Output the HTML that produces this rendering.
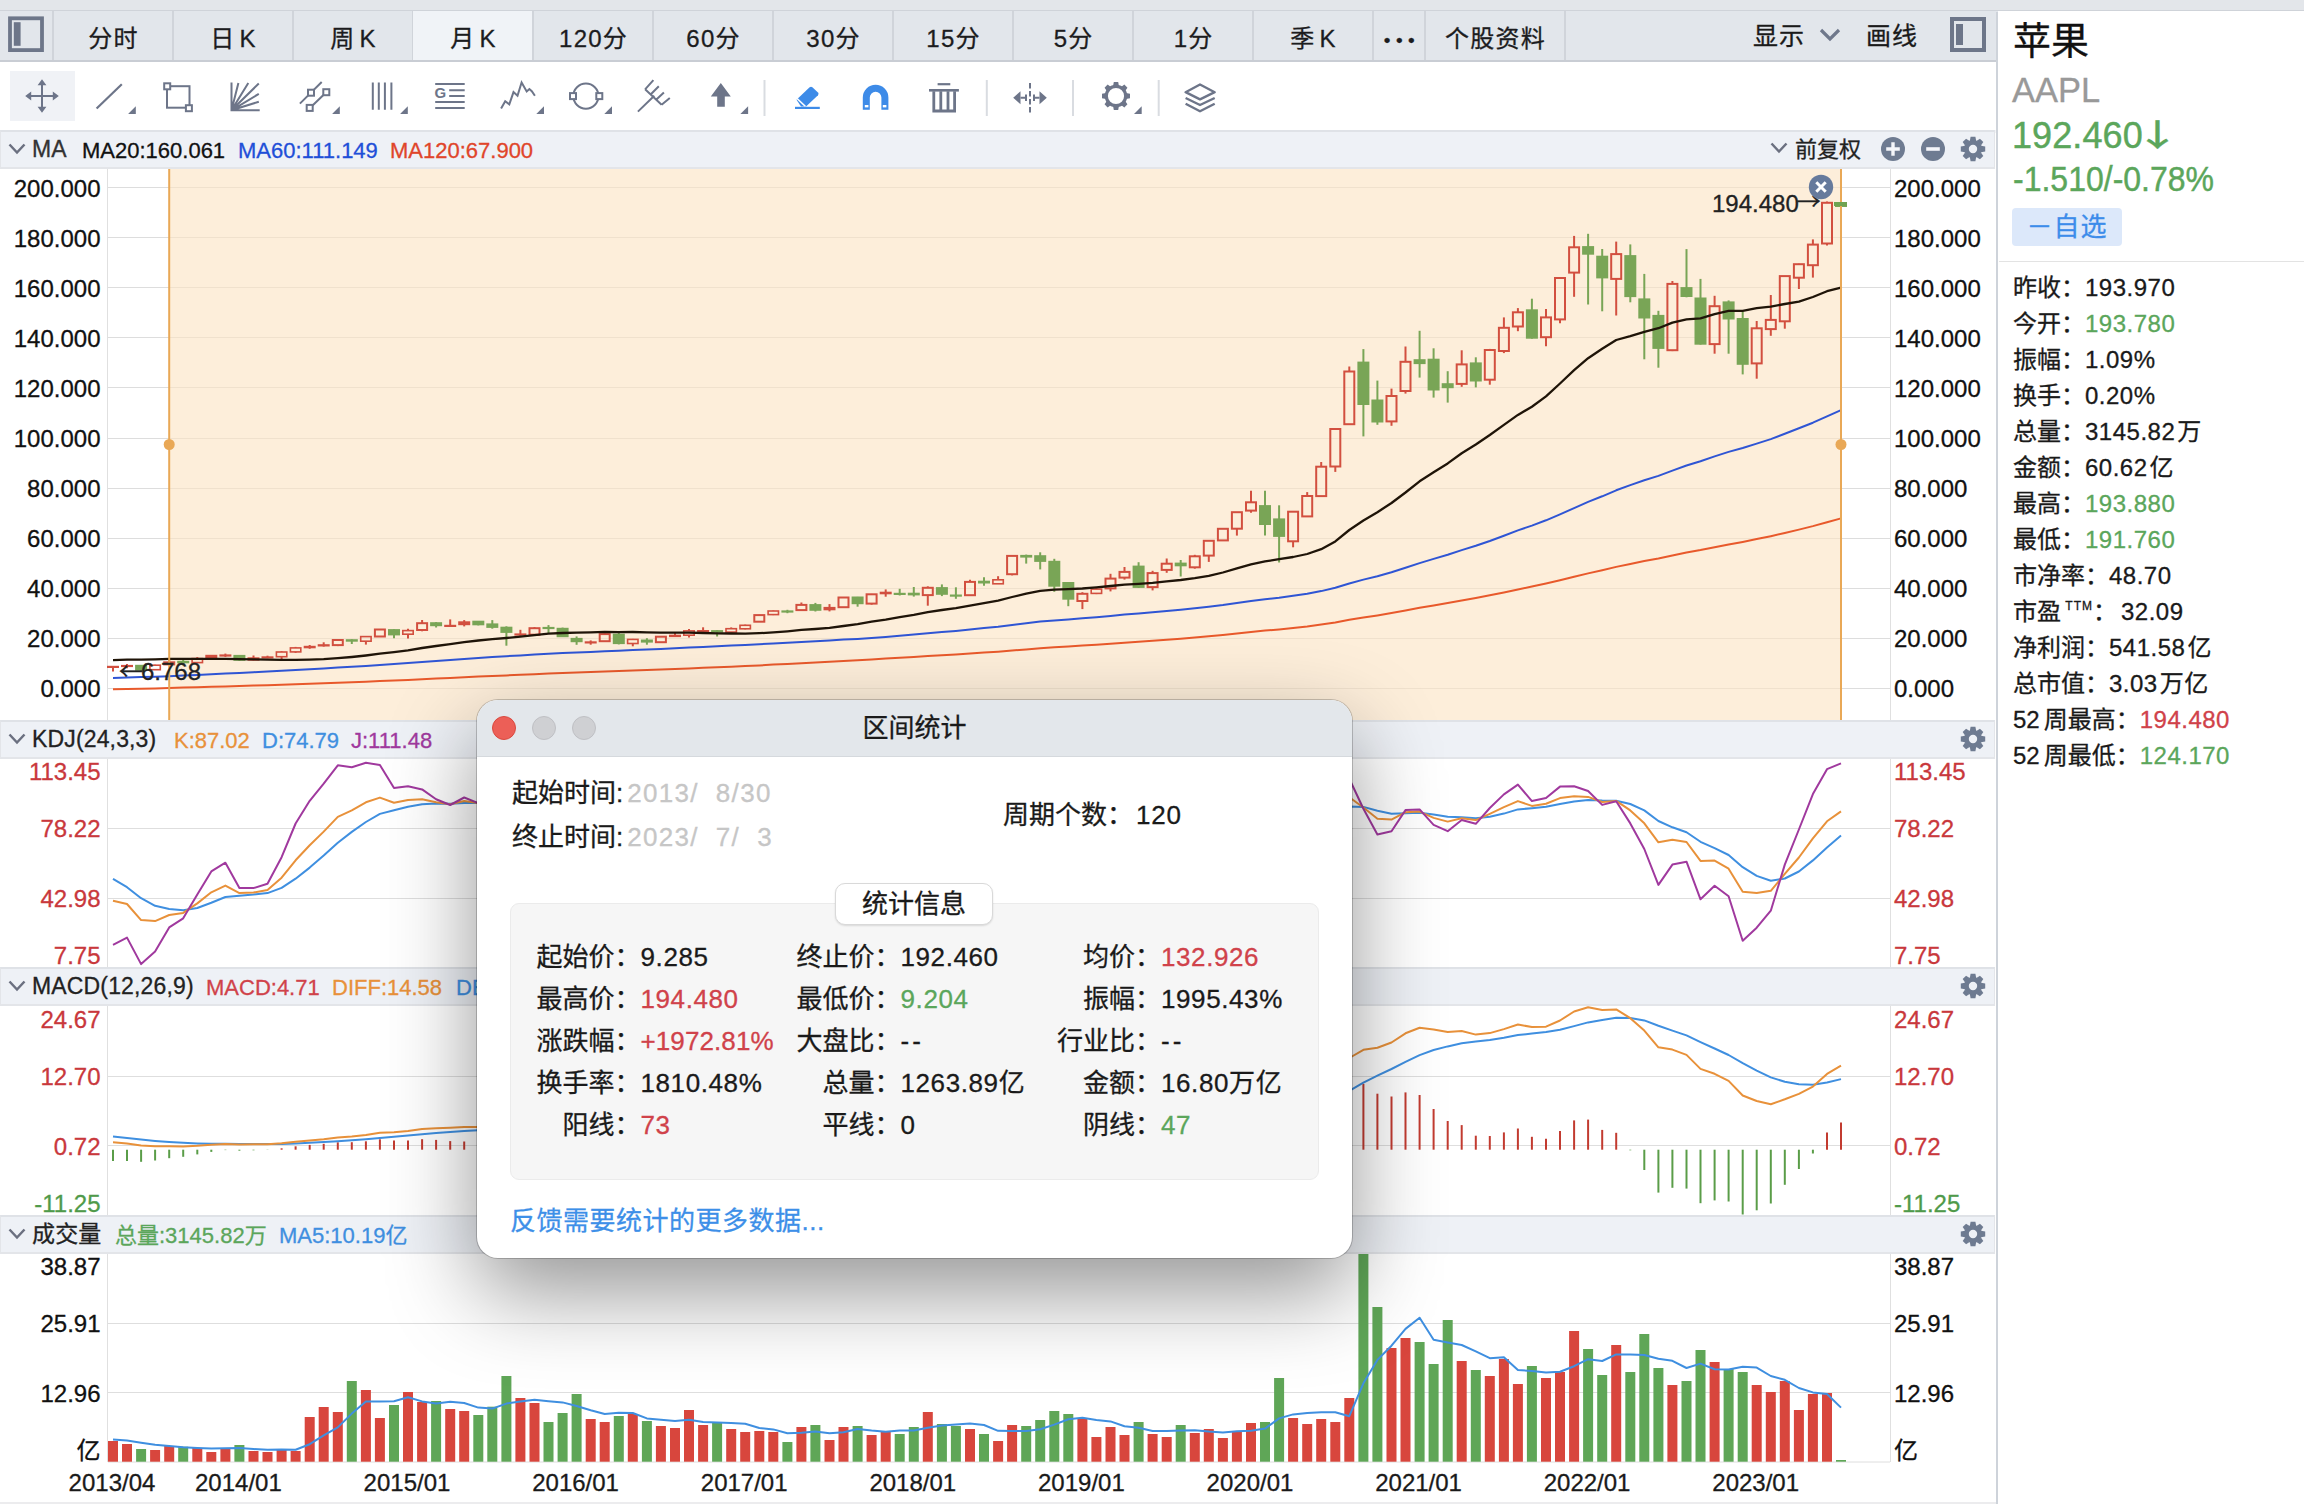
<!DOCTYPE html>
<html lang="zh-CN">
<head>
<meta charset="utf-8">
<title>苹果 AAPL 月K 区间统计</title>
<style>
*{box-sizing:border-box;margin:0;padding:0}
html,body{width:2304px;height:1504px;overflow:hidden;background:#fff}
body{position:relative;font-family:"Liberation Sans","Noto Sans CJK SC",sans-serif;color:#1a1a1a;font-weight:400;-webkit-text-stroke:.3px;-webkit-font-smoothing:antialiased}
.abs{position:absolute}
.t{position:absolute;white-space:nowrap;line-height:1}
#topstrip{left:0;top:0;width:2304px;height:11px;background:#e3e6ea;border-bottom:1px solid #cfd3d9}
#tabbar{left:0;top:11px;width:1998px;height:51px;background:#e2e6eb;border-bottom:2px solid #c9cdd4}
.tab{position:absolute;top:0;height:49px;border-right:2px solid #d0d4da;font-size:24px;line-height:55px;text-align:center;color:#1c1c1e;letter-spacing:1.200px;padding-left:2px}
.tab.sel{background:#f0f3f7}
#toolbar{left:0;top:62px;width:1998px;height:68px;background:#fff}
.hdr{position:absolute;left:0;width:1995px;border-left:1px solid #e3e5e9;border-right:1px solid #e3e5e9;height:36px;background:#eef1f6;border-top:2px solid #dfe2e7;border-bottom:2px solid #e3e5e9;font-size:22px}
.hdr .t{top:5px;line-height:24px}
.ax{position:absolute;font-size:24px;line-height:24px;white-space:nowrap}
.axl{text-align:right;width:100px;left:.5px;margin-top:1px}
.axr{left:1894px;margin-top:1px}
#side{left:1996px;top:12px;width:308px;height:1492px;background:#fff;border-left:2px solid #ced3da}
.row{position:absolute;left:2013px;font-size:24px;line-height:30px;white-space:nowrap}
.g{color:#5ba65b}.r{color:#d0424a}
#dlg{left:477px;top:700px;width:875px;height:558px;border-radius:21px;background:#fff;box-shadow:0 0 0 1px rgba(0,0,0,.2),0 34px 88px rgba(0,0,0,.42);overflow:hidden}
#dlg .title{position:absolute;left:0;top:0;width:100%;height:57px;background:#e3e7eb;border-bottom:1px solid #d5d9dd;text-align:center;font-size:26px;line-height:57px}
.dot{position:absolute;top:16px;width:24px;height:24px;border-radius:50%}
.d26{font-size:26px;line-height:32px}
</style>
</head>
<body>
<div id="topstrip" class="abs"></div>
<div id="tabbar" class="abs">
<div class="tab" style="left:0px;width:54px"></div>
<div class="tab" style="left:53px;width:121px">分时</div>
<div class="tab" style="left:173px;width:121px">日<span style="margin-left:4px">K</span></div>
<div class="tab" style="left:293px;width:121px">周<span style="margin-left:4px">K</span></div>
<div class="tab sel" style="left:413px;width:121px">月<span style="margin-left:4px">K</span></div>
<div class="tab" style="left:533px;width:121px">120分</div>
<div class="tab" style="left:653px;width:121px">60分</div>
<div class="tab" style="left:773px;width:121px">30分</div>
<div class="tab" style="left:893px;width:121px">15分</div>
<div class="tab" style="left:1013px;width:121px">5分</div>
<div class="tab" style="left:1133px;width:121px">1分</div>
<div class="tab" style="left:1253px;width:121px">季<span style="margin-left:4px">K</span></div>
<div class="tab" style="left:1373px;width:53px"><span style="font-size:19px;letter-spacing:5.500px;margin-left:5px">•••</span></div>
<div class="tab" style="left:1425px;width:141px">个股资料</div>
<svg class="abs" style="left:8px;top:3px" width="38" height="40" viewBox="0 0 38 40"><rect x="2" y="4.300" width="32" height="31.800" fill="none" stroke="#6d7689" stroke-width="3.800"/><rect x="5.800" y="8.200" width="6.800" height="23.600" fill="#6d7689"/></svg>
<div class="t" style="left:1753px;top:13px;font-size:25px;letter-spacing:1px">显示</div>
<svg class="abs" style="left:1818px;top:16px" width="24" height="16" viewBox="0 0 24 16"><polyline points="3,3 12,12 21,3" fill="none" stroke="#6f788b" stroke-width="3.200"/></svg>
<div class="t" style="left:1866px;top:13px;font-size:25px;letter-spacing:1px">画线</div>
<svg class="abs" style="left:1949px;top:4.500px" width="40" height="40" viewBox="0 0 40 40"><rect x="3" y="3" width="32" height="31" fill="none" stroke="#6d7689" stroke-width="4"/><rect x="7" y="8" width="7" height="21" fill="#6d7689"/></svg>

</div>
<div id="toolbar" class="abs">
<div class="abs" style="left:10px;top:9px;width:65px;height:50px;background:#f0f2f6"></div>
<svg class="abs" style="left:0;top:0" width="1998" height="68" viewBox="0 62 1998 68" fill="none" stroke="#6d7589" stroke-width="2" stroke-linecap="butt">
<!-- move -->
<path d="M42 82V110M28 96H56"/>
<path d="M42 79.200L46.400 85.200H37.600ZM42 112.800L46.400 106.800H37.600ZM25.200 96L31.200 91.600V100.400ZM58.800 96L52.800 91.600V100.400Z" fill="#6d7589" stroke="none"/>
<!-- line -->
<path d="M96.600 108.500L121.800 84.200" stroke-width="2.200"/>
<path d="M135.800 106.300V114H128.100Z" fill="#6d7589" stroke="none"/>
<!-- square w/ handles -->
<rect x="167" y="86.200" width="22.500" height="21.500"/>
<rect x="164.200" y="83.300" width="6" height="6" fill="#fff"/>
<rect x="185.900" y="105.200" width="6" height="6" fill="#fff"/>
<!-- fan -->
<path d="M231.500 82.400V110.300H259.700M231.500 110.300L238.400 83M231.500 110.300L248.300 83M231.500 110.300L258.800 83.500M231.500 110.300L258.800 93.900M231.500 110.300L258.800 101.700" stroke-width="2"/>
<rect x="231.500" y="104.800" width="5.500" height="5.500" fill="#6d7589" stroke="none"/>
<!-- channel -->
<path d="M299.900 103.600L321.700 82M312 106L325 93.500"/>
<rect x="308" y="89.700" width="6" height="6" fill="#fff"/>
<rect x="323.300" y="89.200" width="6" height="6" fill="#fff"/>
<rect x="306.700" y="104.900" width="6" height="6" fill="#fff"/>
<path d="M339.800 106.300V114H332.100Z" fill="#6d7589" stroke="none"/>
<!-- 4 lines -->
<path d="M372.800 82.400V109.800M378.800 82.400V109.800M384.900 82.400V109.800M391.400 82.400V109.800"/>
<path d="M407.800 106.300V114H400.100Z" fill="#6d7589" stroke="none"/>
<!-- G lines -->
<path d="M435.200 83.900H464.700M449.200 90.300H464.700M449.200 96.100H464.700M435.200 102.100H464.700M435.200 107.900H464.700"/>
<text x="434.600" y="98.300" font-family="Liberation Sans,sans-serif" font-weight="bold" font-size="15" fill="#6d7589" stroke="none">G</text>
<!-- zigzag -->
<polyline points="501.100,108.500 505.200,101.200 509.300,104.300 513.500,92.100 517.500,95.700 521.600,82.400 526.700,91.500 529.400,89 531.800,91.200 534.900,95.700" stroke-linejoin="miter"/>
<path d="M544 106.300V114H536.300Z" fill="#6d7589" stroke="none"/>
<!-- circle handles -->
<circle cx="585.900" cy="96.100" r="12.600"/>
<rect x="570" y="93.100" width="6" height="6" fill="#fff"/>
<rect x="596.300" y="93.100" width="6" height="6" fill="#fff"/>
<path d="M612 106.300V114H604.300Z" fill="#6d7589" stroke="none"/>
<!-- rake -->
<path d="M637.900 111.600L654.300 95.700M645.100 89.300L661.600 104.800M645.100 89.300L653.400 80.200M650.600 94.500L658.800 86.300M656.100 99.700L663.900 92.400M661.600 104.800L669.800 97.900"/>
<!-- up arrow -->
<path d="M710.800 96.600L720.800 83L730.800 96.600H724.800V106.700H717.200V96.600Z" fill="#6d7589" stroke="none"/>
<path d="M748.100 106.300V114H740.400Z" fill="#6d7589" stroke="none"/>
<line x1="764.500" x2="764.500" y1="80" y2="116" stroke="#d9dce1"/>
<!-- eraser -->
<path d="M796.500 99.800L809.600 87.300Q811 86 812.400 87.300L818 92.600Q819.200 93.900 818 95.200L806 106.600H801Z" fill="#3d8be8" stroke="none"/>
<path d="M797 98.500L805.500 106.500" stroke="#fff" stroke-width="1.600"/>
<path d="M795 107.900H819.800" stroke="#3d8be8" stroke-width="2.200"/>
<!-- magnet -->
<path d="M866.300 109.800V97.600A9.300 9.300 0 0 1 884.900 97.600V109.800" stroke="#3d8be8" stroke-width="7"/>
<rect x="864.800" y="105" width="3.600" height="2.400" fill="#fff" stroke="none"/><rect x="882.800" y="105" width="3.600" height="2.400" fill="#fff" stroke="none"/>
<!-- trash -->
<path d="M937.600 84.200H950.300" stroke-width="2.200"/>
<path d="M929 90.300H958.900" stroke-width="2.600"/>
<path d="M933.800 91.200V111H954.600V91.200M940.800 91.200V111M948 91.200V111" stroke-width="2.800"/>
<line x1="986.800" x2="986.800" y1="80" y2="116" stroke="#d9dce1"/>
<!-- h arrows -->
<path d="M1030 83V113" stroke-dasharray="5.500,2.500"/>
<path d="M1013.200 97.700L1020.500 91.200V104.300ZM1046.800 97.700L1039.500 91.200V104.300Z" fill="#6d7589" stroke="none"/>
<path d="M1020.500 97.700H1026M1026 94.500V101M1039.500 97.700H1034M1034 94.500V101"/>
<line x1="1073" x2="1073" y1="80" y2="116" stroke="#d9dce1"/>
<!-- gear -->
<g transform="translate(1116,96)" fill="#6d7589" stroke="none"><path d="M-2.900 -10L-2.200 -14H2.200L2.900 -10Z" transform="rotate(0)"/><path d="M-2.900 -10L-2.200 -14H2.200L2.900 -10Z" transform="rotate(45)"/><path d="M-2.900 -10L-2.200 -14H2.200L2.900 -10Z" transform="rotate(90)"/><path d="M-2.900 -10L-2.200 -14H2.200L2.900 -10Z" transform="rotate(135)"/><path d="M-2.900 -10L-2.200 -14H2.200L2.900 -10Z" transform="rotate(180)"/><path d="M-2.900 -10L-2.200 -14H2.200L2.900 -10Z" transform="rotate(225)"/><path d="M-2.900 -10L-2.200 -14H2.200L2.900 -10Z" transform="rotate(270)"/><path d="M-2.900 -10L-2.200 -14H2.200L2.900 -10Z" transform="rotate(315)"/></g>
<circle cx="1116" cy="96" r="9.700" stroke-width="3.200"/>
<path d="M1141.700 106.300V114H1134Z" fill="#6d7589" stroke="none"/>
<line x1="1158.700" x2="1158.700" y1="80" y2="116" stroke="#d9dce1"/>
<!-- layers -->
<path d="M1200 84.500L1214.700 92.200L1200 99.300L1185.600 92.200ZM1185.600 98L1200 105L1214.700 98M1185.600 103.700L1200 111.200L1214.700 103.700" stroke-width="2.400" stroke-linejoin="round"/>
</svg>

</div>
<div class="abs" style="left:0;top:130px;width:1998px;height:3px;background:#f3f4f6"></div>

<!-- chart svg -->
<svg class="abs" style="left:0;top:0" width="1998" height="1504" viewBox="0 0 1998 1504">
<line x1="107.5" x2="107.5" y1="168" y2="1462" stroke="#e0e0e0"/>
<line x1="1890.5" x2="1890.5" y1="168" y2="1462" stroke="#e0e0e0"/>
<line x1="108" x2="1890" y1="688.5" y2="688.5" stroke="#dddddd" stroke-width="1"/>
<line x1="108" x2="1890" y1="638.5" y2="638.5" stroke="#dddddd" stroke-width="1"/>
<line x1="108" x2="1890" y1="588.5" y2="588.5" stroke="#dddddd" stroke-width="1"/>
<line x1="108" x2="1890" y1="538.5" y2="538.5" stroke="#dddddd" stroke-width="1"/>
<line x1="108" x2="1890" y1="488.5" y2="488.5" stroke="#dddddd" stroke-width="1"/>
<line x1="108" x2="1890" y1="438.5" y2="438.5" stroke="#dddddd" stroke-width="1"/>
<line x1="108" x2="1890" y1="387.5" y2="387.5" stroke="#dddddd" stroke-width="1"/>
<line x1="108" x2="1890" y1="337.5" y2="337.5" stroke="#dddddd" stroke-width="1"/>
<line x1="108" x2="1890" y1="287.5" y2="287.5" stroke="#dddddd" stroke-width="1"/>
<line x1="108" x2="1890" y1="237.5" y2="237.5" stroke="#dddddd" stroke-width="1"/>
<line x1="108" x2="1890" y1="187.5" y2="187.5" stroke="#dddddd" stroke-width="1"/>
<rect x="169.2" y="169" width="1671.8" height="551" fill="#fbe3c4" fill-opacity="0.62"/>
<line x1="113" x2="113" y1="666.1" y2="671.5" stroke="#d24f3f" stroke-width="2"/>
<rect x="107" y="665.8" width="12" height="2.2" fill="#d24f3f"/>
<line x1="127" x2="127" y1="664" y2="668.3" stroke="#d24f3f" stroke-width="2"/>
<rect x="121" y="664.9" width="12" height="2.2" fill="#d24f3f"/>
<line x1="141.1" x2="141.1" y1="665" y2="670.8" stroke="#79a556" stroke-width="2"/>
<rect x="135.1" y="664.8" width="12" height="5.9" fill="#79a556"/>
<line x1="155.1" x2="155.1" y1="664.7" y2="665.2" stroke="#d24f3f" stroke-width="2"/>
<line x1="155.1" x2="155.1" y1="669.6" y2="670" stroke="#d24f3f" stroke-width="2"/>
<rect x="149.9" y="665.2" width="10.4" height="4.5" fill="none" stroke="#d24f3f" stroke-width="1.6"/>
<line x1="169.2" x2="169.2" y1="659.4" y2="665.1" stroke="#d24f3f" stroke-width="2"/>
<rect x="163.2" y="661.3" width="12" height="4.1" fill="#d24f3f"/>
<line x1="183.2" x2="183.2" y1="659.9" y2="665.4" stroke="#79a556" stroke-width="2"/>
<rect x="177.2" y="660.8" width="12" height="2.5" fill="#79a556"/>
<line x1="197.3" x2="197.3" y1="657.1" y2="658.6" stroke="#d24f3f" stroke-width="2"/>
<line x1="197.3" x2="197.3" y1="662.6" y2="662.6" stroke="#d24f3f" stroke-width="2"/>
<rect x="192.1" y="658.6" width="10.4" height="4" fill="none" stroke="#d24f3f" stroke-width="1.6"/>
<line x1="211.3" x2="211.3" y1="655.1" y2="659.5" stroke="#d24f3f" stroke-width="2"/>
<rect x="205.3" y="654.8" width="12" height="4.1" fill="#d24f3f"/>
<line x1="225.4" x2="225.4" y1="653.6" y2="656.9" stroke="#d24f3f" stroke-width="2"/>
<rect x="219.4" y="654.4" width="12" height="2.2" fill="#d24f3f"/>
<line x1="239.4" x2="239.4" y1="655" y2="660.9" stroke="#79a556" stroke-width="2"/>
<rect x="233.4" y="654.9" width="12" height="5.9" fill="#79a556"/>
<line x1="253.5" x2="253.5" y1="655.5" y2="660.4" stroke="#d24f3f" stroke-width="2"/>
<rect x="247.5" y="657.3" width="12" height="3.4" fill="#d24f3f"/>
<line x1="267.5" x2="267.5" y1="655.7" y2="658.2" stroke="#d24f3f" stroke-width="2"/>
<rect x="261.5" y="656.3" width="12" height="2.2" fill="#d24f3f"/>
<line x1="281.6" x2="281.6" y1="651.2" y2="652" stroke="#d24f3f" stroke-width="2"/>
<line x1="281.6" x2="281.6" y1="656.7" y2="659.1" stroke="#d24f3f" stroke-width="2"/>
<rect x="276.4" y="652" width="10.4" height="4.7" fill="none" stroke="#d24f3f" stroke-width="1.6"/>
<line x1="295.6" x2="295.6" y1="646.9" y2="647.9" stroke="#d24f3f" stroke-width="2"/>
<line x1="295.6" x2="295.6" y1="651.9" y2="652.9" stroke="#d24f3f" stroke-width="2"/>
<rect x="290.4" y="647.9" width="10.4" height="4" fill="none" stroke="#d24f3f" stroke-width="1.6"/>
<line x1="309.7" x2="309.7" y1="645" y2="648.8" stroke="#d24f3f" stroke-width="2"/>
<rect x="303.7" y="645.8" width="12" height="2.5" fill="#d24f3f"/>
<line x1="323.7" x2="323.7" y1="642.3" y2="646.6" stroke="#d24f3f" stroke-width="2"/>
<rect x="317.7" y="644.2" width="12" height="2.3" fill="#d24f3f"/>
<line x1="337.8" x2="337.8" y1="639.8" y2="640" stroke="#d24f3f" stroke-width="2"/>
<line x1="337.8" x2="337.8" y1="645.1" y2="646.1" stroke="#d24f3f" stroke-width="2"/>
<rect x="332.8" y="640" width="10" height="5.1" fill="none" stroke="#d24f3f" stroke-width="2"/>
<line x1="351.8" x2="351.8" y1="639.3" y2="644" stroke="#79a556" stroke-width="2"/>
<rect x="345.8" y="639.2" width="12" height="2.5" fill="#79a556"/>
<line x1="365.9" x2="365.9" y1="636.6" y2="636.6" stroke="#d24f3f" stroke-width="2"/>
<line x1="365.9" x2="365.9" y1="641.2" y2="644.6" stroke="#d24f3f" stroke-width="2"/>
<rect x="360.7" y="636.6" width="10.4" height="4.6" fill="none" stroke="#d24f3f" stroke-width="1.6"/>
<line x1="379.9" x2="379.9" y1="629" y2="629.5" stroke="#d24f3f" stroke-width="2"/>
<line x1="379.9" x2="379.9" y1="636.5" y2="636.8" stroke="#d24f3f" stroke-width="2"/>
<rect x="374.9" y="629.5" width="10" height="7" fill="none" stroke="#d24f3f" stroke-width="2"/>
<line x1="394" x2="394" y1="629.3" y2="638.2" stroke="#79a556" stroke-width="2"/>
<rect x="388" y="629.1" width="12" height="6.3" fill="#79a556"/>
<line x1="408" x2="408" y1="628.8" y2="630.6" stroke="#d24f3f" stroke-width="2"/>
<line x1="408" x2="408" y1="634.2" y2="638.4" stroke="#d24f3f" stroke-width="2"/>
<rect x="402.8" y="630.6" width="10.4" height="3.6" fill="none" stroke="#d24f3f" stroke-width="1.6"/>
<line x1="422.1" x2="422.1" y1="620" y2="623.2" stroke="#d24f3f" stroke-width="2"/>
<line x1="422.1" x2="422.1" y1="630" y2="631.3" stroke="#d24f3f" stroke-width="2"/>
<rect x="417.1" y="623.2" width="10" height="6.8" fill="none" stroke="#d24f3f" stroke-width="2"/>
<line x1="436.1" x2="436.1" y1="622.1" y2="627.5" stroke="#79a556" stroke-width="2"/>
<rect x="430.1" y="622.2" width="12" height="4" fill="#79a556"/>
<line x1="450.2" x2="450.2" y1="619.4" y2="626.6" stroke="#d24f3f" stroke-width="2"/>
<rect x="444.2" y="624.8" width="12" height="2.2" fill="#d24f3f"/>
<line x1="464.2" x2="464.2" y1="620.1" y2="626.4" stroke="#d24f3f" stroke-width="2"/>
<rect x="458.2" y="621.3" width="12" height="3.9" fill="#d24f3f"/>
<line x1="478.3" x2="478.3" y1="621.1" y2="625.4" stroke="#79a556" stroke-width="2"/>
<rect x="472.3" y="620.7" width="12" height="4.6" fill="#79a556"/>
<line x1="492.3" x2="492.3" y1="620.1" y2="628.7" stroke="#79a556" stroke-width="2"/>
<rect x="486.3" y="623.4" width="12" height="4.5" fill="#79a556"/>
<line x1="506.4" x2="506.4" y1="626.3" y2="645.7" stroke="#79a556" stroke-width="2"/>
<rect x="500.4" y="626.7" width="12" height="6.2" fill="#79a556"/>
<line x1="520.4" x2="520.4" y1="629.8" y2="635.8" stroke="#d24f3f" stroke-width="2"/>
<rect x="514.4" y="633.4" width="12" height="2.2" fill="#d24f3f"/>
<line x1="534.5" x2="534.5" y1="627.1" y2="628.2" stroke="#d24f3f" stroke-width="2"/>
<line x1="534.5" x2="534.5" y1="634.7" y2="635.8" stroke="#d24f3f" stroke-width="2"/>
<rect x="529.5" y="628.2" width="10" height="6.5" fill="none" stroke="#d24f3f" stroke-width="2"/>
<line x1="548.5" x2="548.5" y1="625.1" y2="633.5" stroke="#79a556" stroke-width="2"/>
<rect x="542.5" y="626.9" width="12" height="2.2" fill="#79a556"/>
<line x1="562.6" x2="562.6" y1="627.6" y2="637" stroke="#79a556" stroke-width="2"/>
<rect x="556.6" y="627.8" width="12" height="9.4" fill="#79a556"/>
<line x1="576.6" x2="576.6" y1="636.4" y2="644.8" stroke="#79a556" stroke-width="2"/>
<rect x="570.6" y="637.9" width="12" height="4.3" fill="#79a556"/>
<line x1="590.7" x2="590.7" y1="640.4" y2="644.7" stroke="#d24f3f" stroke-width="2"/>
<rect x="584.7" y="641.3" width="12" height="2.2" fill="#d24f3f"/>
<line x1="604.7" x2="604.7" y1="633.2" y2="634.1" stroke="#d24f3f" stroke-width="2"/>
<line x1="604.7" x2="604.7" y1="641.2" y2="641.4" stroke="#d24f3f" stroke-width="2"/>
<rect x="599.7" y="634.1" width="10" height="7.1" fill="none" stroke="#d24f3f" stroke-width="2"/>
<line x1="618.8" x2="618.8" y1="632" y2="644.4" stroke="#79a556" stroke-width="2"/>
<rect x="612.8" y="633.7" width="12" height="10.4" fill="#79a556"/>
<line x1="632.8" x2="632.8" y1="638.9" y2="639.4" stroke="#d24f3f" stroke-width="2"/>
<line x1="632.8" x2="632.8" y1="643.5" y2="646.3" stroke="#d24f3f" stroke-width="2"/>
<rect x="627.6" y="639.4" width="10.4" height="4.1" fill="none" stroke="#d24f3f" stroke-width="1.6"/>
<line x1="646.9" x2="646.9" y1="638.2" y2="644.7" stroke="#79a556" stroke-width="2"/>
<rect x="640.9" y="639.5" width="12" height="3.1" fill="#79a556"/>
<line x1="660.9" x2="660.9" y1="636.5" y2="636.7" stroke="#d24f3f" stroke-width="2"/>
<line x1="660.9" x2="660.9" y1="642.2" y2="642.9" stroke="#d24f3f" stroke-width="2"/>
<rect x="655.9" y="636.7" width="10" height="5.5" fill="none" stroke="#d24f3f" stroke-width="2"/>
<line x1="675" x2="675" y1="632.6" y2="637.1" stroke="#d24f3f" stroke-width="2"/>
<rect x="669" y="634.7" width="12" height="2.4" fill="#d24f3f"/>
<line x1="689" x2="689" y1="628.9" y2="630.9" stroke="#d24f3f" stroke-width="2"/>
<line x1="689" x2="689" y1="635.2" y2="637.4" stroke="#d24f3f" stroke-width="2"/>
<rect x="683.8" y="630.9" width="10.4" height="4.3" fill="none" stroke="#d24f3f" stroke-width="1.6"/>
<line x1="703.1" x2="703.1" y1="627.3" y2="631.3" stroke="#d24f3f" stroke-width="2"/>
<rect x="697.1" y="630" width="12" height="2.2" fill="#d24f3f"/>
<line x1="717.1" x2="717.1" y1="630" y2="636.5" stroke="#79a556" stroke-width="2"/>
<rect x="711.1" y="630.1" width="12" height="2.5" fill="#79a556"/>
<line x1="731.2" x2="731.2" y1="627.4" y2="628.7" stroke="#d24f3f" stroke-width="2"/>
<line x1="731.2" x2="731.2" y1="632.2" y2="633.5" stroke="#d24f3f" stroke-width="2"/>
<rect x="726" y="628.7" width="10.4" height="3.4" fill="none" stroke="#d24f3f" stroke-width="1.6"/>
<line x1="745.2" x2="745.2" y1="624.6" y2="625.3" stroke="#d24f3f" stroke-width="2"/>
<line x1="745.2" x2="745.2" y1="628.8" y2="629.4" stroke="#d24f3f" stroke-width="2"/>
<rect x="740" y="625.3" width="10.4" height="3.5" fill="none" stroke="#d24f3f" stroke-width="1.6"/>
<line x1="759.3" x2="759.3" y1="614.8" y2="615.1" stroke="#d24f3f" stroke-width="2"/>
<line x1="759.3" x2="759.3" y1="621.7" y2="621.8" stroke="#d24f3f" stroke-width="2"/>
<rect x="754.3" y="615.1" width="10" height="6.6" fill="none" stroke="#d24f3f" stroke-width="2"/>
<line x1="773.3" x2="773.3" y1="610.5" y2="611" stroke="#d24f3f" stroke-width="2"/>
<line x1="773.3" x2="773.3" y1="614.6" y2="615.1" stroke="#d24f3f" stroke-width="2"/>
<rect x="768.1" y="611" width="10.4" height="3.6" fill="none" stroke="#d24f3f" stroke-width="1.6"/>
<line x1="787.4" x2="787.4" y1="609.8" y2="613.2" stroke="#79a556" stroke-width="2"/>
<rect x="781.4" y="610.4" width="12" height="2.2" fill="#79a556"/>
<line x1="801.4" x2="801.4" y1="602.5" y2="604.9" stroke="#d24f3f" stroke-width="2"/>
<line x1="801.4" x2="801.4" y1="610.1" y2="610.6" stroke="#d24f3f" stroke-width="2"/>
<rect x="796.4" y="604.9" width="10" height="5.2" fill="none" stroke="#d24f3f" stroke-width="2"/>
<line x1="815.4" x2="815.4" y1="602.9" y2="611.5" stroke="#79a556" stroke-width="2"/>
<rect x="809.4" y="604.1" width="12" height="6.7" fill="#79a556"/>
<line x1="829.5" x2="829.5" y1="604.1" y2="611.4" stroke="#d24f3f" stroke-width="2"/>
<rect x="823.5" y="606.9" width="12" height="3.4" fill="#d24f3f"/>
<line x1="843.5" x2="843.5" y1="597.1" y2="597.5" stroke="#d24f3f" stroke-width="2"/>
<line x1="843.5" x2="843.5" y1="607.2" y2="607.6" stroke="#d24f3f" stroke-width="2"/>
<rect x="838.5" y="597.5" width="10" height="9.7" fill="none" stroke="#d24f3f" stroke-width="2"/>
<line x1="857.6" x2="857.6" y1="596.9" y2="606.7" stroke="#79a556" stroke-width="2"/>
<rect x="851.6" y="596.5" width="12" height="7.7" fill="#79a556"/>
<line x1="871.6" x2="871.6" y1="593.9" y2="594.3" stroke="#d24f3f" stroke-width="2"/>
<line x1="871.6" x2="871.6" y1="603.6" y2="604.7" stroke="#d24f3f" stroke-width="2"/>
<rect x="866.6" y="594.3" width="10" height="9.3" fill="none" stroke="#d24f3f" stroke-width="2"/>
<line x1="885.7" x2="885.7" y1="589.4" y2="596.7" stroke="#d24f3f" stroke-width="2"/>
<rect x="879.7" y="591.7" width="12" height="2.6" fill="#d24f3f"/>
<line x1="899.7" x2="899.7" y1="588.8" y2="595.5" stroke="#79a556" stroke-width="2"/>
<rect x="893.7" y="592.8" width="12" height="2.2" fill="#79a556"/>
<line x1="913.8" x2="913.8" y1="587" y2="596.6" stroke="#79a556" stroke-width="2"/>
<rect x="907.8" y="592.7" width="12" height="2.7" fill="#79a556"/>
<line x1="927.8" x2="927.8" y1="586.3" y2="587.8" stroke="#d24f3f" stroke-width="2"/>
<line x1="927.8" x2="927.8" y1="595.1" y2="605.7" stroke="#d24f3f" stroke-width="2"/>
<rect x="922.8" y="587.8" width="10" height="7.3" fill="none" stroke="#d24f3f" stroke-width="2"/>
<line x1="941.9" x2="941.9" y1="584.4" y2="596.1" stroke="#79a556" stroke-width="2"/>
<rect x="935.9" y="587.1" width="12" height="7.7" fill="#79a556"/>
<line x1="955.9" x2="955.9" y1="587.3" y2="598.8" stroke="#79a556" stroke-width="2"/>
<rect x="949.9" y="594.5" width="12" height="2.2" fill="#79a556"/>
<line x1="970" x2="970" y1="579.7" y2="581.9" stroke="#d24f3f" stroke-width="2"/>
<line x1="970" x2="970" y1="595.2" y2="595.9" stroke="#d24f3f" stroke-width="2"/>
<rect x="965" y="581.9" width="10" height="13.3" fill="none" stroke="#d24f3f" stroke-width="2"/>
<line x1="984" x2="984" y1="577.3" y2="585.7" stroke="#79a556" stroke-width="2"/>
<rect x="978" y="580.7" width="12" height="2.8" fill="#79a556"/>
<line x1="998.1" x2="998.1" y1="576.2" y2="579.8" stroke="#d24f3f" stroke-width="2"/>
<line x1="998.1" x2="998.1" y1="583.8" y2="584" stroke="#d24f3f" stroke-width="2"/>
<rect x="992.9" y="579.8" width="10.4" height="4" fill="none" stroke="#d24f3f" stroke-width="1.6"/>
<line x1="1012.1" x2="1012.1" y1="555.1" y2="555.9" stroke="#d24f3f" stroke-width="2"/>
<line x1="1012.1" x2="1012.1" y1="574.2" y2="575.4" stroke="#d24f3f" stroke-width="2"/>
<rect x="1007.1" y="555.9" width="10" height="18.3" fill="none" stroke="#d24f3f" stroke-width="2"/>
<line x1="1026.2" x2="1026.2" y1="554.6" y2="563.6" stroke="#79a556" stroke-width="2"/>
<rect x="1020.2" y="554.9" width="12" height="2.7" fill="#79a556"/>
<line x1="1040.2" x2="1040.2" y1="552.3" y2="569.4" stroke="#79a556" stroke-width="2"/>
<rect x="1034.2" y="555.2" width="12" height="6.7" fill="#79a556"/>
<line x1="1054.3" x2="1054.3" y1="558.8" y2="591.8" stroke="#79a556" stroke-width="2"/>
<rect x="1048.3" y="560.8" width="12" height="25.9" fill="#79a556"/>
<line x1="1068.3" x2="1068.3" y1="582.2" y2="606.2" stroke="#79a556" stroke-width="2"/>
<rect x="1062.3" y="582" width="12" height="17.7" fill="#79a556"/>
<line x1="1082.4" x2="1082.4" y1="592.2" y2="593.8" stroke="#d24f3f" stroke-width="2"/>
<line x1="1082.4" x2="1082.4" y1="601" y2="609.1" stroke="#d24f3f" stroke-width="2"/>
<rect x="1077.4" y="593.8" width="10" height="7.2" fill="none" stroke="#d24f3f" stroke-width="2"/>
<line x1="1096.4" x2="1096.4" y1="587.4" y2="589.1" stroke="#d24f3f" stroke-width="2"/>
<line x1="1096.4" x2="1096.4" y1="593.4" y2="594.1" stroke="#d24f3f" stroke-width="2"/>
<rect x="1091.2" y="589.1" width="10.4" height="4.3" fill="none" stroke="#d24f3f" stroke-width="1.6"/>
<line x1="1110.5" x2="1110.5" y1="573.8" y2="578.6" stroke="#d24f3f" stroke-width="2"/>
<line x1="1110.5" x2="1110.5" y1="588.4" y2="591.4" stroke="#d24f3f" stroke-width="2"/>
<rect x="1105.5" y="578.6" width="10" height="9.8" fill="none" stroke="#d24f3f" stroke-width="2"/>
<line x1="1124.5" x2="1124.5" y1="567" y2="571.9" stroke="#d24f3f" stroke-width="2"/>
<line x1="1124.5" x2="1124.5" y1="577.5" y2="579.6" stroke="#d24f3f" stroke-width="2"/>
<rect x="1119.5" y="571.9" width="10" height="5.7" fill="none" stroke="#d24f3f" stroke-width="2"/>
<line x1="1138.6" x2="1138.6" y1="562.2" y2="588" stroke="#79a556" stroke-width="2"/>
<rect x="1132.6" y="565.6" width="12" height="22.3" fill="#79a556"/>
<line x1="1152.6" x2="1152.6" y1="570.8" y2="573.1" stroke="#d24f3f" stroke-width="2"/>
<line x1="1152.6" x2="1152.6" y1="587.1" y2="590.4" stroke="#d24f3f" stroke-width="2"/>
<rect x="1147.6" y="573.1" width="10" height="14" fill="none" stroke="#d24f3f" stroke-width="2"/>
<line x1="1166.7" x2="1166.7" y1="558.5" y2="563.7" stroke="#d24f3f" stroke-width="2"/>
<line x1="1166.7" x2="1166.7" y1="569.8" y2="572.8" stroke="#d24f3f" stroke-width="2"/>
<rect x="1161.7" y="563.7" width="10" height="6.2" fill="none" stroke="#d24f3f" stroke-width="2"/>
<line x1="1180.7" x2="1180.7" y1="560" y2="576.5" stroke="#79a556" stroke-width="2"/>
<rect x="1174.7" y="562.6" width="12" height="3.7" fill="#79a556"/>
<line x1="1194.8" x2="1194.8" y1="554.8" y2="556.3" stroke="#d24f3f" stroke-width="2"/>
<line x1="1194.8" x2="1194.8" y1="567.3" y2="568.7" stroke="#d24f3f" stroke-width="2"/>
<rect x="1189.8" y="556.3" width="10" height="11" fill="none" stroke="#d24f3f" stroke-width="2"/>
<line x1="1208.8" x2="1208.8" y1="540.2" y2="540.8" stroke="#d24f3f" stroke-width="2"/>
<line x1="1208.8" x2="1208.8" y1="555.6" y2="561.9" stroke="#d24f3f" stroke-width="2"/>
<rect x="1203.8" y="540.8" width="10" height="14.8" fill="none" stroke="#d24f3f" stroke-width="2"/>
<line x1="1222.9" x2="1222.9" y1="528.3" y2="528.8" stroke="#d24f3f" stroke-width="2"/>
<line x1="1222.9" x2="1222.9" y1="540.3" y2="540.6" stroke="#d24f3f" stroke-width="2"/>
<rect x="1217.9" y="528.8" width="10" height="11.6" fill="none" stroke="#d24f3f" stroke-width="2"/>
<line x1="1236.9" x2="1236.9" y1="512" y2="512.2" stroke="#d24f3f" stroke-width="2"/>
<line x1="1236.9" x2="1236.9" y1="528.7" y2="535.6" stroke="#d24f3f" stroke-width="2"/>
<rect x="1231.9" y="512.2" width="10" height="16.5" fill="none" stroke="#d24f3f" stroke-width="2"/>
<line x1="1251" x2="1251" y1="490.8" y2="502.3" stroke="#d24f3f" stroke-width="2"/>
<line x1="1251" x2="1251" y1="510.6" y2="512.8" stroke="#d24f3f" stroke-width="2"/>
<rect x="1246" y="502.3" width="10" height="8.3" fill="none" stroke="#d24f3f" stroke-width="2"/>
<line x1="1265" x2="1265" y1="490.7" y2="535.6" stroke="#79a556" stroke-width="2"/>
<rect x="1259" y="505.1" width="12" height="19.9" fill="#79a556"/>
<line x1="1279.1" x2="1279.1" y1="505.3" y2="562.5" stroke="#79a556" stroke-width="2"/>
<rect x="1273.1" y="518.4" width="12" height="18.5" fill="#79a556"/>
<line x1="1293.1" x2="1293.1" y1="511.2" y2="511.7" stroke="#d24f3f" stroke-width="2"/>
<line x1="1293.1" x2="1293.1" y1="541.3" y2="547.3" stroke="#d24f3f" stroke-width="2"/>
<rect x="1288.1" y="511.7" width="10" height="29.6" fill="none" stroke="#d24f3f" stroke-width="2"/>
<line x1="1307.2" x2="1307.2" y1="492.1" y2="496" stroke="#d24f3f" stroke-width="2"/>
<line x1="1307.2" x2="1307.2" y1="516.4" y2="516.6" stroke="#d24f3f" stroke-width="2"/>
<rect x="1302.2" y="496" width="10" height="20.4" fill="none" stroke="#d24f3f" stroke-width="2"/>
<line x1="1321.2" x2="1321.2" y1="462" y2="466.7" stroke="#d24f3f" stroke-width="2"/>
<line x1="1321.2" x2="1321.2" y1="496.2" y2="496.5" stroke="#d24f3f" stroke-width="2"/>
<rect x="1316.2" y="466.7" width="10" height="29.4" fill="none" stroke="#d24f3f" stroke-width="2"/>
<line x1="1335.3" x2="1335.3" y1="428.6" y2="429" stroke="#d24f3f" stroke-width="2"/>
<line x1="1335.3" x2="1335.3" y1="466.5" y2="471.9" stroke="#d24f3f" stroke-width="2"/>
<rect x="1330.3" y="429" width="10" height="37.5" fill="none" stroke="#d24f3f" stroke-width="2"/>
<line x1="1349.3" x2="1349.3" y1="366.5" y2="371.5" stroke="#d24f3f" stroke-width="2"/>
<line x1="1349.3" x2="1349.3" y1="424.1" y2="424.9" stroke="#d24f3f" stroke-width="2"/>
<rect x="1344.3" y="371.5" width="10" height="52.7" fill="none" stroke="#d24f3f" stroke-width="2"/>
<line x1="1363.4" x2="1363.4" y1="349.1" y2="436.4" stroke="#79a556" stroke-width="2"/>
<rect x="1357.4" y="361.6" width="12" height="43.4" fill="#79a556"/>
<line x1="1377.4" x2="1377.4" y1="380.6" y2="424.8" stroke="#79a556" stroke-width="2"/>
<rect x="1371.4" y="399.5" width="12" height="23" fill="#79a556"/>
<line x1="1391.5" x2="1391.5" y1="388.6" y2="396" stroke="#d24f3f" stroke-width="2"/>
<line x1="1391.5" x2="1391.5" y1="421.4" y2="425.8" stroke="#d24f3f" stroke-width="2"/>
<rect x="1386.5" y="396" width="10" height="25.4" fill="none" stroke="#d24f3f" stroke-width="2"/>
<line x1="1405.5" x2="1405.5" y1="346.5" y2="361.8" stroke="#d24f3f" stroke-width="2"/>
<line x1="1405.5" x2="1405.5" y1="391" y2="393.6" stroke="#d24f3f" stroke-width="2"/>
<rect x="1400.5" y="361.8" width="10" height="29.2" fill="none" stroke="#d24f3f" stroke-width="2"/>
<line x1="1419.6" x2="1419.6" y1="330.8" y2="377.6" stroke="#79a556" stroke-width="2"/>
<rect x="1413.6" y="359.2" width="12" height="4.9" fill="#79a556"/>
<line x1="1433.6" x2="1433.6" y1="348.3" y2="397.6" stroke="#79a556" stroke-width="2"/>
<rect x="1427.6" y="358.7" width="12" height="31.8" fill="#79a556"/>
<line x1="1447.7" x2="1447.7" y1="371.2" y2="402.6" stroke="#79a556" stroke-width="2"/>
<rect x="1441.7" y="383.2" width="12" height="5" fill="#79a556"/>
<line x1="1461.7" x2="1461.7" y1="350.3" y2="364.4" stroke="#d24f3f" stroke-width="2"/>
<line x1="1461.7" x2="1461.7" y1="383.9" y2="386.8" stroke="#d24f3f" stroke-width="2"/>
<rect x="1456.7" y="364.4" width="10" height="19.5" fill="none" stroke="#d24f3f" stroke-width="2"/>
<line x1="1475.8" x2="1475.8" y1="357.3" y2="387.4" stroke="#79a556" stroke-width="2"/>
<rect x="1469.8" y="362.4" width="12" height="19.1" fill="#79a556"/>
<line x1="1489.8" x2="1489.8" y1="348.9" y2="350" stroke="#d24f3f" stroke-width="2"/>
<line x1="1489.8" x2="1489.8" y1="379.8" y2="384.7" stroke="#d24f3f" stroke-width="2"/>
<rect x="1484.8" y="350" width="10" height="29.7" fill="none" stroke="#d24f3f" stroke-width="2"/>
<line x1="1503.9" x2="1503.9" y1="317.4" y2="327.8" stroke="#d24f3f" stroke-width="2"/>
<line x1="1503.9" x2="1503.9" y1="351" y2="353.1" stroke="#d24f3f" stroke-width="2"/>
<rect x="1498.9" y="327.8" width="10" height="23.2" fill="none" stroke="#d24f3f" stroke-width="2"/>
<line x1="1517.9" x2="1517.9" y1="308.1" y2="312.3" stroke="#d24f3f" stroke-width="2"/>
<line x1="1517.9" x2="1517.9" y1="326.5" y2="331.2" stroke="#d24f3f" stroke-width="2"/>
<rect x="1512.9" y="312.3" width="10" height="14.2" fill="none" stroke="#d24f3f" stroke-width="2"/>
<line x1="1531.9" x2="1531.9" y1="298.7" y2="338.7" stroke="#79a556" stroke-width="2"/>
<rect x="1525.9" y="309.3" width="12" height="29.4" fill="#79a556"/>
<line x1="1546" x2="1546" y1="308.9" y2="317.4" stroke="#d24f3f" stroke-width="2"/>
<line x1="1546" x2="1546" y1="337.1" y2="346.2" stroke="#d24f3f" stroke-width="2"/>
<rect x="1541" y="317.4" width="10" height="19.8" fill="none" stroke="#d24f3f" stroke-width="2"/>
<line x1="1560" x2="1560" y1="277" y2="278" stroke="#d24f3f" stroke-width="2"/>
<line x1="1560" x2="1560" y1="319.4" y2="323.2" stroke="#d24f3f" stroke-width="2"/>
<rect x="1555" y="278" width="10" height="41.4" fill="none" stroke="#d24f3f" stroke-width="2"/>
<line x1="1574.1" x2="1574.1" y1="235.9" y2="247.3" stroke="#d24f3f" stroke-width="2"/>
<line x1="1574.1" x2="1574.1" y1="272.5" y2="296.8" stroke="#d24f3f" stroke-width="2"/>
<rect x="1569.1" y="247.3" width="10" height="25.3" fill="none" stroke="#d24f3f" stroke-width="2"/>
<line x1="1588.1" x2="1588.1" y1="233.8" y2="304.5" stroke="#79a556" stroke-width="2"/>
<rect x="1582.1" y="246.1" width="12" height="8.6" fill="#79a556"/>
<line x1="1602.2" x2="1602.2" y1="249" y2="311.3" stroke="#79a556" stroke-width="2"/>
<rect x="1596.2" y="255.7" width="12" height="22.7" fill="#79a556"/>
<line x1="1616.2" x2="1616.2" y1="241.6" y2="254.1" stroke="#d24f3f" stroke-width="2"/>
<line x1="1616.2" x2="1616.2" y1="278.9" y2="315.5" stroke="#d24f3f" stroke-width="2"/>
<rect x="1611.2" y="254.1" width="10" height="24.8" fill="none" stroke="#d24f3f" stroke-width="2"/>
<line x1="1630.3" x2="1630.3" y1="244.4" y2="302.3" stroke="#79a556" stroke-width="2"/>
<rect x="1624.3" y="255.1" width="12" height="42" fill="#79a556"/>
<line x1="1644.3" x2="1644.3" y1="273.9" y2="359.3" stroke="#79a556" stroke-width="2"/>
<rect x="1638.3" y="298.4" width="12" height="20.1" fill="#79a556"/>
<line x1="1658.4" x2="1658.4" y1="310.8" y2="367.7" stroke="#79a556" stroke-width="2"/>
<rect x="1652.4" y="314.9" width="12" height="34" fill="#79a556"/>
<line x1="1672.4" x2="1672.4" y1="281" y2="283.9" stroke="#d24f3f" stroke-width="2"/>
<line x1="1672.4" x2="1672.4" y1="350.1" y2="351.1" stroke="#d24f3f" stroke-width="2"/>
<rect x="1667.4" y="283.9" width="10" height="66.3" fill="none" stroke="#d24f3f" stroke-width="2"/>
<line x1="1686.5" x2="1686.5" y1="249.1" y2="297.3" stroke="#79a556" stroke-width="2"/>
<rect x="1680.5" y="287.1" width="12" height="9.9" fill="#79a556"/>
<line x1="1700.5" x2="1700.5" y1="278.9" y2="344.6" stroke="#79a556" stroke-width="2"/>
<rect x="1694.5" y="297.5" width="12" height="47.2" fill="#79a556"/>
<line x1="1714.6" x2="1714.6" y1="295.8" y2="306.2" stroke="#d24f3f" stroke-width="2"/>
<line x1="1714.6" x2="1714.6" y1="344.1" y2="353.7" stroke="#d24f3f" stroke-width="2"/>
<rect x="1709.6" y="306.2" width="10" height="37.9" fill="none" stroke="#d24f3f" stroke-width="2"/>
<line x1="1728.6" x2="1728.6" y1="300.4" y2="353.7" stroke="#79a556" stroke-width="2"/>
<rect x="1722.6" y="301.4" width="12" height="18.1" fill="#79a556"/>
<line x1="1742.7" x2="1742.7" y1="311.7" y2="374.4" stroke="#79a556" stroke-width="2"/>
<rect x="1736.7" y="318" width="12" height="46.8" fill="#79a556"/>
<line x1="1756.7" x2="1756.7" y1="321" y2="328.3" stroke="#d24f3f" stroke-width="2"/>
<line x1="1756.7" x2="1756.7" y1="363.4" y2="378.7" stroke="#d24f3f" stroke-width="2"/>
<rect x="1751.7" y="328.3" width="10" height="35.1" fill="none" stroke="#d24f3f" stroke-width="2"/>
<line x1="1770.8" x2="1770.8" y1="295" y2="319.9" stroke="#d24f3f" stroke-width="2"/>
<line x1="1770.8" x2="1770.8" y1="329.1" y2="335.8" stroke="#d24f3f" stroke-width="2"/>
<rect x="1765.8" y="319.9" width="10" height="9.2" fill="none" stroke="#d24f3f" stroke-width="2"/>
<line x1="1784.8" x2="1784.8" y1="275.9" y2="276.1" stroke="#d24f3f" stroke-width="2"/>
<line x1="1784.8" x2="1784.8" y1="321.4" y2="328.7" stroke="#d24f3f" stroke-width="2"/>
<rect x="1779.8" y="276.1" width="10" height="45.2" fill="none" stroke="#d24f3f" stroke-width="2"/>
<line x1="1798.9" x2="1798.9" y1="263.7" y2="264.2" stroke="#d24f3f" stroke-width="2"/>
<line x1="1798.9" x2="1798.9" y1="277.7" y2="289" stroke="#d24f3f" stroke-width="2"/>
<rect x="1793.9" y="264.2" width="10" height="13.5" fill="none" stroke="#d24f3f" stroke-width="2"/>
<line x1="1812.9" x2="1812.9" y1="239.4" y2="244.6" stroke="#d24f3f" stroke-width="2"/>
<line x1="1812.9" x2="1812.9" y1="265.2" y2="277.6" stroke="#d24f3f" stroke-width="2"/>
<rect x="1807.9" y="244.6" width="10" height="20.6" fill="none" stroke="#d24f3f" stroke-width="2"/>
<line x1="1827" x2="1827" y1="201.5" y2="202.8" stroke="#d24f3f" stroke-width="2"/>
<line x1="1827" x2="1827" y1="243.5" y2="245.4" stroke="#d24f3f" stroke-width="2"/>
<rect x="1822" y="202.8" width="10" height="40.7" fill="none" stroke="#d24f3f" stroke-width="2"/>
<line x1="1841" x2="1841" y1="203" y2="208.3" stroke="#79a556" stroke-width="2"/>
<rect x="1835" y="202.7" width="12" height="4.3" fill="#79a556"/>
<polyline points="113,689.3 127,689 141.1,688.7 155.1,688.4 169.2,688 183.2,687.6 197.3,687.2 211.3,686.8 225.4,686.4 239.4,686 253.5,685.6 267.5,685.2 281.6,684.8 295.6,684.3 309.7,683.8 323.7,683.3 337.8,682.8 351.8,682.2 365.9,681.7 379.9,681 394,680.5 408,679.9 422.1,679.2 436.1,678.6 450.2,677.9 464.2,677.2 478.3,676.6 492.3,675.9 506.4,675.4 520.4,674.8 534.5,674.2 548.5,673.6 562.6,673.1 576.6,672.6 590.7,672.1 604.7,671.5 618.8,671.1 632.8,670.5 646.9,670 660.9,669.5 675,669 689,668.4 703.1,667.8 717.1,667.3 731.2,666.7 745.2,666.1 759.3,665.4 773.3,664.6 787.4,663.9 801.4,663.2 815.4,662.5 829.5,661.7 843.5,660.9 857.6,660.2 871.6,659.4 885.7,658.6 899.7,657.8 913.8,656.9 927.8,656 941.9,655.2 955.9,654.4 970,653.5 984,652.6 998.1,651.7 1012.1,650.5 1026.2,649.4 1040.2,648.3 1054.3,647.3 1068.3,646.5 1082.4,645.6 1096.4,644.7 1110.5,643.7 1124.5,642.7 1138.6,641.8 1152.6,640.8 1166.7,639.7 1180.7,638.7 1194.8,637.6 1208.8,636.3 1222.9,635 1236.9,633.5 1251,632 1265,630.6 1279.1,629.4 1293.1,627.9 1307.2,626.4 1321.2,624.5 1335.3,622.4 1349.3,619.8 1363.4,617.5 1377.4,615.4 1391.5,613 1405.5,610.4 1419.6,607.8 1433.6,605.4 1447.7,603 1461.7,600.4 1475.8,597.9 1489.8,595.2 1503.9,592.4 1517.9,589.4 1531.9,586.6 1546,583.6 1560,580.3 1574.1,576.8 1588.1,573.4 1602.2,570.2 1616.2,566.9 1630.3,563.9 1644.3,561.1 1658.4,558.6 1672.4,555.5 1686.5,552.6 1700.5,550.1 1714.6,547.2 1728.6,544.4 1742.7,541.9 1756.7,539.1 1770.8,536.2 1784.8,533 1798.9,529.6 1812.9,526.1 1827,522.2 1841,518.4" fill="none" stroke="#e8592b" stroke-width="2" stroke-linejoin="round"/>
<polyline points="113,677.9 127,677.5 141.1,677.1 155.1,676.7 169.2,676.2 183.2,675.6 197.3,675 211.3,674.3 225.4,673.5 239.4,672.9 253.5,672.2 267.5,671.5 281.6,670.8 295.6,670 309.7,669.3 323.7,668.5 337.8,667.6 351.8,666.8 365.9,665.9 379.9,664.9 394,664 408,663.1 422.1,662 436.1,661 450.2,660 464.2,659 478.3,658 492.3,657 506.4,656.2 520.4,655.4 534.5,654.5 548.5,653.7 562.6,653 576.6,652.4 590.7,651.9 604.7,651.2 618.8,650.7 632.8,650.1 646.9,649.5 660.9,648.9 675,648.3 689,647.6 703.1,646.9 717.1,646.3 731.2,645.6 745.2,644.9 759.3,644.2 773.3,643.5 787.4,642.7 801.4,641.9 815.4,641.2 829.5,640.4 843.5,639.6 857.6,638.9 871.6,637.9 885.7,636.9 899.7,635.8 913.8,634.6 927.8,633.3 941.9,632.1 955.9,630.9 970,629.6 984,628.1 998.1,626.7 1012.1,624.9 1026.2,623.2 1040.2,621.5 1054.3,620.4 1068.3,619.5 1082.4,618.3 1096.4,617.2 1110.5,615.9 1124.5,614.6 1138.6,613.5 1152.6,612.3 1166.7,611 1180.7,609.7 1194.8,608.3 1208.8,606.7 1222.9,605.1 1236.9,603 1251,600.9 1265,599.2 1279.1,597.7 1293.1,595.8 1307.2,593.7 1321.2,591.1 1335.3,587.8 1349.3,583.5 1363.4,579.6 1377.4,576.2 1391.5,572.3 1405.5,567.7 1419.6,563.1 1433.6,558.9 1447.7,554.8 1461.7,550.1 1475.8,545.8 1489.8,541 1503.9,535.8 1517.9,530.4 1531.9,525.6 1546,520.3 1560,514.4 1574.1,508.1 1588.1,501.9 1602.2,496.3 1616.2,490.3 1630.3,485.1 1644.3,480.3 1658.4,475.9 1672.4,470.6 1686.5,465.5 1700.5,461.2 1714.6,456.4 1728.6,451.9 1742.7,448 1756.7,443.6 1770.8,439.1 1784.8,433.8 1798.9,428.3 1812.9,422.7 1827,416.3 1841,410.1" fill="none" stroke="#2f55d4" stroke-width="2" stroke-linejoin="round"/>
<polyline points="113,660.1 127,659.7 141.1,659.7 155.1,659.4 169.2,658.9 183.2,658.8 197.3,658.8 211.3,658.9 225.4,658.9 239.4,659.2 253.5,659.4 267.5,659.6 281.6,659.9 295.6,659.9 309.7,659.6 323.7,659.1 337.8,658.2 351.8,657 365.9,655.5 379.9,653.7 394,652.1 408,650.4 422.1,648 436.1,646 450.2,644.2 464.2,642.2 478.3,640.5 492.3,639.1 506.4,638 520.4,636.6 534.5,635.2 548.5,633.7 562.6,633 576.6,632.7 590.7,632.4 604.7,631.9 618.8,632.1 632.8,632 646.9,632.3 660.9,632.6 675,632.7 689,632.7 703.1,633 717.1,633.4 731.2,633.5 745.2,633.7 759.3,633.2 773.3,632.4 787.4,631.3 801.4,629.9 815.4,629 829.5,627.9 843.5,626 857.6,624.1 871.6,621.7 885.7,619.6 899.7,617.1 913.8,614.9 927.8,612.2 941.9,610 955.9,608.1 970,605.6 984,603.2 998.1,600.6 1012.1,597 1026.2,593.6 1040.2,590.9 1054.3,589.7 1068.3,589.1 1082.4,588.5 1096.4,587.4 1110.5,586 1124.5,584.7 1138.6,583.9 1152.6,582.9 1166.7,581.4 1180.7,580 1194.8,578.1 1208.8,575.8 1222.9,572.5 1236.9,568.3 1251,564.3 1265,561.4 1279.1,559.2 1293.1,557 1307.2,554 1321.2,549.2 1335.3,541.4 1349.3,530 1363.4,520.5 1377.4,512.2 1391.5,503 1405.5,492.5 1419.6,481.3 1433.6,472.2 1447.7,463.4 1461.7,453.3 1475.8,444.5 1489.8,435 1503.9,424.9 1517.9,414.9 1531.9,406.7 1546,396.4 1560,383.5 1574.1,370.2 1588.1,358.2 1602.2,348.7 1616.2,340 1630.3,336.2 1644.3,331.9 1658.4,328.2 1672.4,322.6 1686.5,319.4 1700.5,318.4 1714.6,314.2 1728.6,310.8 1742.7,310.8 1756.7,308.1 1770.8,306.6 1784.8,304 1798.9,301.6 1812.9,297 1827,291.2 1841,287.7" fill="none" stroke="#1f1408" stroke-width="2.3" stroke-linejoin="round"/>
<line x1="169.2" x2="169.2" y1="169" y2="720" stroke="#e9a856" stroke-width="2"/>
<circle cx="169.2" cy="444.5" r="5.5" fill="#e9a856"/>
<line x1="1841" x2="1841" y1="169" y2="720" stroke="#e9a856" stroke-width="2"/>
<circle cx="1841" cy="444.5" r="5.5" fill="#e9a856"/>
<line x1="108" x2="1890" y1="828.5" y2="828.5" stroke="#dedede"/>
<line x1="108" x2="1890" y1="898.5" y2="898.5" stroke="#dedede"/>
<polyline points="113,878.8 127,887.2 141.1,898.2 155.1,905.8 169.2,908.9 183.2,910.2 197.3,908 211.3,902.7 225.4,897 239.4,895.7 253.5,894.6 267.5,893.1 281.6,887.9 295.6,878.7 309.7,867.6 323.7,855.6 337.8,842.7 351.8,831.9 365.9,822 379.9,813.9 394,810.2 408,806.8 422.1,804.3 436.1,803.6 450.2,803.8 464.2,802.9 478.3,802.9 492.3,804.8 506.4,809.7 520.4,816.6 534.5,820.8 548.5,823.6 562.6,829.8 576.6,839.5 590.7,850.2 604.7,855.9 618.8,866.4 632.8,877 646.9,889.9 660.9,898.1 675,902 689,900.2 703.1,895.7 717.1,891.7 731.2,885.8 745.2,876.8 759.3,862.9 773.3,848.5 787.4,835.8 801.4,825.9 815.4,820.9 829.5,817.3 843.5,812.4 857.6,810.2 871.6,806.7 885.7,803.9 899.7,802.6 913.8,803 927.8,801.9 941.9,803.1 955.9,805.7 970,805.5 984,805 998.1,804 1012.1,801.7 1026.2,799.6 1040.2,799.5 1054.3,807.1 1068.3,821.4 1082.4,836.8 1096.4,850.8 1110.5,859.2 1124.5,862.1 1138.6,867.8 1152.6,869 1166.7,864.6 1180.7,859.2 1194.8,850.2 1208.8,839.3 1222.9,828.6 1236.9,819.2 1251,813.4 1265,814 1279.1,819.6 1293.1,822.2 1307.2,820.3 1321.2,816.3 1335.3,811.2 1349.3,806.6 1363.4,806.9 1377.4,810.8 1391.5,813.7 1405.5,813.2 1419.6,812.7 1433.6,814.4 1447.7,816.8 1461.7,817.3 1475.8,818.2 1489.8,816.7 1503.9,813.6 1517.9,809.4 1531.9,808.2 1546,806.8 1560,803.9 1574.1,801.4 1588.1,799.9 1602.2,800.6 1616.2,800.7 1630.3,804 1644.3,810.4 1658.4,821 1672.4,827.3 1686.5,832.2 1700.5,841.8 1714.6,848.1 1728.6,855 1742.7,867.2 1756.7,875.9 1770.8,880.8 1784.8,878.5 1798.9,871.5 1812.9,860.4 1827,847.4 1841,835.4" fill="none" stroke="#3f8fe0" stroke-width="2" stroke-linejoin="round"/>
<polyline points="113,900.8 127,904 141.1,920.1 155.1,921.1 169.2,915 183.2,912.9 197.3,903.4 211.3,892.3 225.4,885.6 239.4,893.1 253.5,892.5 267.5,889.9 281.6,877.7 295.6,860.3 309.7,845.3 323.7,831.6 337.8,816.9 351.8,810.4 365.9,802.3 379.9,797.6 394,802.8 408,799.9 422.1,799.3 436.1,802.2 450.2,804.2 464.2,801.1 478.3,803 492.3,808.6 506.4,819.5 520.4,830.3 534.5,829.3 548.5,829.3 562.6,842.2 576.6,859 590.7,871.6 604.7,867.2 618.8,887.5 632.8,898.2 646.9,915.5 660.9,914.5 675,910 689,896.5 703.1,886.7 717.1,883.9 731.2,873.9 745.2,858.9 759.3,835.2 773.3,819.7 787.4,810.5 801.4,805.9 815.4,811 829.5,810.1 843.5,802.5 857.6,805.9 871.6,799.7 885.7,798.3 899.7,799.8 913.8,804 927.8,799.6 941.9,805.5 955.9,811 970,804.9 984,804.2 998.1,801.9 1012.1,797.2 1026.2,795.4 1040.2,799.4 1054.3,822.2 1068.3,849.9 1082.4,867.7 1096.4,878.8 1110.5,876.1 1124.5,867.7 1138.6,879.3 1152.6,871.3 1166.7,856 1180.7,848.3 1194.8,832.2 1208.8,817.4 1222.9,807.3 1236.9,800.3 1251,801.9 1265,815.2 1279.1,830.7 1293.1,827.4 1307.2,816.5 1321.2,808.4 1335.3,801.1 1349.3,797.3 1363.4,807.5 1377.4,818.7 1391.5,819.6 1405.5,812.2 1419.6,811.6 1433.6,817.9 1447.7,821.6 1461.7,818.2 1475.8,820.1 1489.8,813.8 1503.9,807.2 1517.9,801.1 1531.9,805.9 1546,803.8 1560,798.1 1574.1,796.3 1588.1,796.9 1602.2,802 1616.2,800.9 1630.3,810.4 1644.3,823.3 1658.4,842.3 1672.4,839.7 1686.5,842 1700.5,860.9 1714.6,860.6 1728.6,868.7 1742.7,891.7 1756.7,893.1 1770.8,890.8 1784.8,873.9 1798.9,857.5 1812.9,838.3 1827,821.3 1841,811.4" fill="none" stroke="#e8913a" stroke-width="2" stroke-linejoin="round"/>
<polyline points="113,944.8 127,937.6 141.1,964.1 155.1,951.6 169.2,927.4 183.2,918.3 197.3,894.4 211.3,871.4 225.4,862.7 239.4,887.9 253.5,888.1 267.5,883.7 281.6,857.2 295.6,823.5 309.7,800.8 323.7,783.6 337.8,765.3 351.8,767.3 365.9,762.8 379.9,765.1 394,788 408,786.2 422.1,789.4 436.1,799.3 450.2,805 464.2,797.5 478.3,803.1 492.3,816.2 506.4,839.1 520.4,857.8 534.5,846.3 548.5,840.6 562.6,866.8 576.6,897.9 590.7,914.3 604.7,889.9 618.8,929.7 632.8,940.6 646.9,966.8 660.9,947.3 675,925.9 689,889 703.1,868.6 717.1,868.1 731.2,850.1 745.2,822.9 759.3,779.7 773.3,762 787.4,759.8 801.4,766 815.4,791.3 829.5,795.6 843.5,782.7 857.6,797.4 871.6,785.8 885.7,787.1 899.7,794.4 913.8,805.8 927.8,795.1 941.9,810.3 955.9,821.6 970,803.7 984,802.6 998.1,797.8 1012.1,788.2 1026.2,787 1040.2,799 1054.3,852.4 1068.3,907 1082.4,929.4 1096.4,934.8 1110.5,909.8 1124.5,879 1138.6,902.3 1152.6,875.9 1166.7,838.6 1180.7,826.5 1194.8,796.2 1208.8,773.6 1222.9,764.6 1236.9,762.6 1251,778.8 1265,817.6 1279.1,853 1293.1,837.8 1307.2,808.9 1321.2,792.6 1335.3,780.7 1349.3,778.8 1363.4,808.7 1377.4,834.4 1391.5,831.2 1405.5,810.1 1419.6,809.4 1433.6,824.9 1447.7,831.2 1461.7,820 1475.8,823.8 1489.8,808 1503.9,794.4 1517.9,784.6 1531.9,801.1 1546,798 1560,786.6 1574.1,786.3 1588.1,791 1602.2,804.9 1616.2,801.3 1630.3,823.4 1644.3,849 1658.4,884.9 1672.4,864.6 1686.5,861.7 1700.5,899.3 1714.6,885.8 1728.6,896.3 1742.7,940.8 1756.7,927.7 1770.8,910.7 1784.8,864.6 1798.9,829.5 1812.9,794.1 1827,769.2 1841,763.4" fill="none" stroke="#a0399e" stroke-width="2" stroke-linejoin="round"/>
<line x1="108" x2="1890" y1="1076.5" y2="1076.5" stroke="#dedede"/>
<line x1="108" x2="1890" y1="1145.5" y2="1145.5" stroke="#dedede"/>
<line x1="113" x2="113" y1="1149.7" y2="1161" stroke="#5a9d48" stroke-width="2"/>
<line x1="127" x2="127" y1="1149.7" y2="1160.9" stroke="#5a9d48" stroke-width="2"/>
<line x1="141.1" x2="141.1" y1="1149.7" y2="1161.8" stroke="#5a9d48" stroke-width="2"/>
<line x1="155.1" x2="155.1" y1="1149.7" y2="1160.5" stroke="#5a9d48" stroke-width="2"/>
<line x1="169.2" x2="169.2" y1="1149.7" y2="1158.2" stroke="#5a9d48" stroke-width="2"/>
<line x1="183.2" x2="183.2" y1="1149.7" y2="1156.8" stroke="#5a9d48" stroke-width="2"/>
<line x1="197.3" x2="197.3" y1="1149.7" y2="1154.4" stroke="#5a9d48" stroke-width="2"/>
<line x1="211.3" x2="211.3" y1="1149.7" y2="1151.9" stroke="#5a9d48" stroke-width="2"/>
<line x1="225.4" x2="225.4" y1="1149.7" y2="1150.1" stroke="#5a9d48" stroke-width="2"/>
<line x1="239.4" x2="239.4" y1="1149.7" y2="1150.7" stroke="#5a9d48" stroke-width="2"/>
<line x1="253.5" x2="253.5" y1="1149.7" y2="1150.3" stroke="#5a9d48" stroke-width="2"/>
<line x1="267.5" x2="267.5" y1="1149.7" y2="1149.9" stroke="#5a9d48" stroke-width="2"/>
<line x1="281.6" x2="281.6" y1="1149.7" y2="1148.3" stroke="#c23b30" stroke-width="2"/>
<line x1="295.6" x2="295.6" y1="1149.7" y2="1146.3" stroke="#c23b30" stroke-width="2"/>
<line x1="309.7" x2="309.7" y1="1149.7" y2="1144.9" stroke="#c23b30" stroke-width="2"/>
<line x1="323.7" x2="323.7" y1="1149.7" y2="1143.8" stroke="#c23b30" stroke-width="2"/>
<line x1="337.8" x2="337.8" y1="1149.7" y2="1142.3" stroke="#c23b30" stroke-width="2"/>
<line x1="351.8" x2="351.8" y1="1149.7" y2="1142.2" stroke="#c23b30" stroke-width="2"/>
<line x1="365.9" x2="365.9" y1="1149.7" y2="1141.3" stroke="#c23b30" stroke-width="2"/>
<line x1="379.9" x2="379.9" y1="1149.7" y2="1139.3" stroke="#c23b30" stroke-width="2"/>
<line x1="394" x2="394" y1="1149.7" y2="1140.4" stroke="#c23b30" stroke-width="2"/>
<line x1="408" x2="408" y1="1149.7" y2="1140.6" stroke="#c23b30" stroke-width="2"/>
<line x1="422.1" x2="422.1" y1="1149.7" y2="1139.2" stroke="#c23b30" stroke-width="2"/>
<line x1="436.1" x2="436.1" y1="1149.7" y2="1139.9" stroke="#c23b30" stroke-width="2"/>
<line x1="450.2" x2="450.2" y1="1149.7" y2="1141.1" stroke="#c23b30" stroke-width="2"/>
<line x1="464.2" x2="464.2" y1="1149.7" y2="1141.5" stroke="#c23b30" stroke-width="2"/>
<line x1="478.3" x2="478.3" y1="1149.7" y2="1143.4" stroke="#c23b30" stroke-width="2"/>
<line x1="492.3" x2="492.3" y1="1149.7" y2="1146.1" stroke="#c23b30" stroke-width="2"/>
<line x1="506.4" x2="506.4" y1="1149.7" y2="1149.8" stroke="#5a9d48" stroke-width="2"/>
<line x1="520.4" x2="520.4" y1="1149.7" y2="1152.9" stroke="#5a9d48" stroke-width="2"/>
<line x1="534.5" x2="534.5" y1="1149.7" y2="1153.3" stroke="#5a9d48" stroke-width="2"/>
<line x1="548.5" x2="548.5" y1="1149.7" y2="1153.9" stroke="#5a9d48" stroke-width="2"/>
<line x1="562.6" x2="562.6" y1="1149.7" y2="1156.8" stroke="#5a9d48" stroke-width="2"/>
<line x1="576.6" x2="576.6" y1="1149.7" y2="1160" stroke="#5a9d48" stroke-width="2"/>
<line x1="590.7" x2="590.7" y1="1149.7" y2="1161.8" stroke="#5a9d48" stroke-width="2"/>
<line x1="604.7" x2="604.7" y1="1149.7" y2="1160.2" stroke="#5a9d48" stroke-width="2"/>
<line x1="618.8" x2="618.8" y1="1149.7" y2="1161.8" stroke="#5a9d48" stroke-width="2"/>
<line x1="632.8" x2="632.8" y1="1149.7" y2="1161.1" stroke="#5a9d48" stroke-width="2"/>
<line x1="646.9" x2="646.9" y1="1149.7" y2="1161.1" stroke="#5a9d48" stroke-width="2"/>
<line x1="660.9" x2="660.9" y1="1149.7" y2="1159" stroke="#5a9d48" stroke-width="2"/>
<line x1="675" x2="675" y1="1149.7" y2="1156.9" stroke="#5a9d48" stroke-width="2"/>
<line x1="689" x2="689" y1="1149.7" y2="1154.1" stroke="#5a9d48" stroke-width="2"/>
<line x1="703.1" x2="703.1" y1="1149.7" y2="1152.1" stroke="#5a9d48" stroke-width="2"/>
<line x1="717.1" x2="717.1" y1="1149.7" y2="1151.3" stroke="#5a9d48" stroke-width="2"/>
<line x1="731.2" x2="731.2" y1="1149.7" y2="1149.8" stroke="#5a9d48" stroke-width="2"/>
<line x1="745.2" x2="745.2" y1="1149.7" y2="1148" stroke="#c23b30" stroke-width="2"/>
<line x1="759.3" x2="759.3" y1="1149.7" y2="1144.1" stroke="#c23b30" stroke-width="2"/>
<line x1="773.3" x2="773.3" y1="1149.7" y2="1140.8" stroke="#c23b30" stroke-width="2"/>
<line x1="787.4" x2="787.4" y1="1149.7" y2="1139.3" stroke="#c23b30" stroke-width="2"/>
<line x1="801.4" x2="801.4" y1="1149.7" y2="1137.3" stroke="#c23b30" stroke-width="2"/>
<line x1="815.4" x2="815.4" y1="1149.7" y2="1138.5" stroke="#c23b30" stroke-width="2"/>
<line x1="829.5" x2="829.5" y1="1149.7" y2="1139.2" stroke="#c23b30" stroke-width="2"/>
<line x1="843.5" x2="843.5" y1="1149.7" y2="1137.5" stroke="#c23b30" stroke-width="2"/>
<line x1="857.6" x2="857.6" y1="1149.7" y2="1139.2" stroke="#c23b30" stroke-width="2"/>
<line x1="871.6" x2="871.6" y1="1149.7" y2="1138.3" stroke="#c23b30" stroke-width="2"/>
<line x1="885.7" x2="885.7" y1="1149.7" y2="1138.1" stroke="#c23b30" stroke-width="2"/>
<line x1="899.7" x2="899.7" y1="1149.7" y2="1139.3" stroke="#c23b30" stroke-width="2"/>
<line x1="913.8" x2="913.8" y1="1149.7" y2="1141.4" stroke="#c23b30" stroke-width="2"/>
<line x1="927.8" x2="927.8" y1="1149.7" y2="1141.4" stroke="#c23b30" stroke-width="2"/>
<line x1="941.9" x2="941.9" y1="1149.7" y2="1144.2" stroke="#c23b30" stroke-width="2"/>
<line x1="955.9" x2="955.9" y1="1149.7" y2="1147.1" stroke="#c23b30" stroke-width="2"/>
<line x1="970" x2="970" y1="1149.7" y2="1145.3" stroke="#c23b30" stroke-width="2"/>
<line x1="984" x2="984" y1="1149.7" y2="1145.2" stroke="#c23b30" stroke-width="2"/>
<line x1="998.1" x2="998.1" y1="1149.7" y2="1144.9" stroke="#c23b30" stroke-width="2"/>
<line x1="1012.1" x2="1012.1" y1="1149.7" y2="1138.4" stroke="#c23b30" stroke-width="2"/>
<line x1="1026.2" x2="1026.2" y1="1149.7" y2="1135.7" stroke="#c23b30" stroke-width="2"/>
<line x1="1040.2" x2="1040.2" y1="1149.7" y2="1136.6" stroke="#c23b30" stroke-width="2"/>
<line x1="1054.3" x2="1054.3" y1="1149.7" y2="1145.6" stroke="#c23b30" stroke-width="2"/>
<line x1="1068.3" x2="1068.3" y1="1149.7" y2="1155.9" stroke="#5a9d48" stroke-width="2"/>
<line x1="1082.4" x2="1082.4" y1="1149.7" y2="1160.9" stroke="#5a9d48" stroke-width="2"/>
<line x1="1096.4" x2="1096.4" y1="1149.7" y2="1162.7" stroke="#5a9d48" stroke-width="2"/>
<line x1="1110.5" x2="1110.5" y1="1149.7" y2="1160.4" stroke="#5a9d48" stroke-width="2"/>
<line x1="1124.5" x2="1124.5" y1="1149.7" y2="1157" stroke="#5a9d48" stroke-width="2"/>
<line x1="1138.6" x2="1138.6" y1="1149.7" y2="1159.4" stroke="#5a9d48" stroke-width="2"/>
<line x1="1152.6" x2="1152.6" y1="1149.7" y2="1156.7" stroke="#5a9d48" stroke-width="2"/>
<line x1="1166.7" x2="1166.7" y1="1149.7" y2="1152.2" stroke="#5a9d48" stroke-width="2"/>
<line x1="1180.7" x2="1180.7" y1="1149.7" y2="1150.3" stroke="#5a9d48" stroke-width="2"/>
<line x1="1194.8" x2="1194.8" y1="1149.7" y2="1146.7" stroke="#c23b30" stroke-width="2"/>
<line x1="1208.8" x2="1208.8" y1="1149.7" y2="1140.4" stroke="#c23b30" stroke-width="2"/>
<line x1="1222.9" x2="1222.9" y1="1149.7" y2="1133.9" stroke="#c23b30" stroke-width="2"/>
<line x1="1236.9" x2="1236.9" y1="1149.7" y2="1126.2" stroke="#c23b30" stroke-width="2"/>
<line x1="1251" x2="1251" y1="1149.7" y2="1120.2" stroke="#c23b30" stroke-width="2"/>
<line x1="1265" x2="1265" y1="1149.7" y2="1125.1" stroke="#c23b30" stroke-width="2"/>
<line x1="1279.1" x2="1279.1" y1="1149.7" y2="1133.6" stroke="#c23b30" stroke-width="2"/>
<line x1="1293.1" x2="1293.1" y1="1149.7" y2="1133.1" stroke="#c23b30" stroke-width="2"/>
<line x1="1307.2" x2="1307.2" y1="1149.7" y2="1129.9" stroke="#c23b30" stroke-width="2"/>
<line x1="1321.2" x2="1321.2" y1="1149.7" y2="1121" stroke="#c23b30" stroke-width="2"/>
<line x1="1335.3" x2="1335.3" y1="1149.7" y2="1106.6" stroke="#c23b30" stroke-width="2"/>
<line x1="1349.3" x2="1349.3" y1="1149.7" y2="1083.9" stroke="#c23b30" stroke-width="2"/>
<line x1="1363.4" x2="1363.4" y1="1149.7" y2="1083.9" stroke="#c23b30" stroke-width="2"/>
<line x1="1377.4" x2="1377.4" y1="1149.7" y2="1093.7" stroke="#c23b30" stroke-width="2"/>
<line x1="1391.5" x2="1391.5" y1="1149.7" y2="1096.5" stroke="#c23b30" stroke-width="2"/>
<line x1="1405.5" x2="1405.5" y1="1149.7" y2="1092.4" stroke="#c23b30" stroke-width="2"/>
<line x1="1419.6" x2="1419.6" y1="1149.7" y2="1095" stroke="#c23b30" stroke-width="2"/>
<line x1="1433.6" x2="1433.6" y1="1149.7" y2="1109" stroke="#c23b30" stroke-width="2"/>
<line x1="1447.7" x2="1447.7" y1="1149.7" y2="1121" stroke="#c23b30" stroke-width="2"/>
<line x1="1461.7" x2="1461.7" y1="1149.7" y2="1125.1" stroke="#c23b30" stroke-width="2"/>
<line x1="1475.8" x2="1475.8" y1="1149.7" y2="1135.7" stroke="#c23b30" stroke-width="2"/>
<line x1="1489.8" x2="1489.8" y1="1149.7" y2="1136" stroke="#c23b30" stroke-width="2"/>
<line x1="1503.9" x2="1503.9" y1="1149.7" y2="1132.4" stroke="#c23b30" stroke-width="2"/>
<line x1="1517.9" x2="1517.9" y1="1149.7" y2="1128.5" stroke="#c23b30" stroke-width="2"/>
<line x1="1531.9" x2="1531.9" y1="1149.7" y2="1136.8" stroke="#c23b30" stroke-width="2"/>
<line x1="1546" x2="1546" y1="1149.7" y2="1138.8" stroke="#c23b30" stroke-width="2"/>
<line x1="1560" x2="1560" y1="1149.7" y2="1131.1" stroke="#c23b30" stroke-width="2"/>
<line x1="1574.1" x2="1574.1" y1="1149.7" y2="1120.4" stroke="#c23b30" stroke-width="2"/>
<line x1="1588.1" x2="1588.1" y1="1149.7" y2="1119.6" stroke="#c23b30" stroke-width="2"/>
<line x1="1602.2" x2="1602.2" y1="1149.7" y2="1129.9" stroke="#c23b30" stroke-width="2"/>
<line x1="1616.2" x2="1616.2" y1="1149.7" y2="1132.8" stroke="#c23b30" stroke-width="2"/>
<line x1="1630.3" x2="1630.3" y1="1149.7" y2="1150.3" stroke="#5a9d48" stroke-width="2"/>
<line x1="1644.3" x2="1644.3" y1="1149.7" y2="1170" stroke="#5a9d48" stroke-width="2"/>
<line x1="1658.4" x2="1658.4" y1="1149.7" y2="1192.6" stroke="#5a9d48" stroke-width="2"/>
<line x1="1672.4" x2="1672.4" y1="1149.7" y2="1187.8" stroke="#5a9d48" stroke-width="2"/>
<line x1="1686.5" x2="1686.5" y1="1149.7" y2="1188.6" stroke="#5a9d48" stroke-width="2"/>
<line x1="1700.5" x2="1700.5" y1="1149.7" y2="1203.2" stroke="#5a9d48" stroke-width="2"/>
<line x1="1714.6" x2="1714.6" y1="1149.7" y2="1200.4" stroke="#5a9d48" stroke-width="2"/>
<line x1="1728.6" x2="1728.6" y1="1149.7" y2="1201.5" stroke="#5a9d48" stroke-width="2"/>
<line x1="1742.7" x2="1742.7" y1="1149.7" y2="1214.5" stroke="#5a9d48" stroke-width="2"/>
<line x1="1756.7" x2="1756.7" y1="1149.7" y2="1210.3" stroke="#5a9d48" stroke-width="2"/>
<line x1="1770.8" x2="1770.8" y1="1149.7" y2="1203.5" stroke="#5a9d48" stroke-width="2"/>
<line x1="1784.8" x2="1784.8" y1="1149.7" y2="1184.8" stroke="#5a9d48" stroke-width="2"/>
<line x1="1798.9" x2="1798.9" y1="1149.7" y2="1169" stroke="#5a9d48" stroke-width="2"/>
<line x1="1812.9" x2="1812.9" y1="1149.7" y2="1153.5" stroke="#5a9d48" stroke-width="2"/>
<line x1="1827" x2="1827" y1="1149.7" y2="1132.5" stroke="#c23b30" stroke-width="2"/>
<line x1="1841" x2="1841" y1="1149.7" y2="1122.5" stroke="#c23b30" stroke-width="2"/>
<polyline points="113,1136.6 127,1138 141.1,1139.5 155.1,1140.9 169.2,1142 183.2,1142.8 197.3,1143.4 211.3,1143.7 225.4,1143.8 239.4,1143.9 253.5,1144 267.5,1144 281.6,1143.9 295.6,1143.4 309.7,1142.8 323.7,1142.1 337.8,1141.2 351.8,1140.3 365.9,1139.2 379.9,1137.9 394,1136.8 408,1135.6 422.1,1134.3 436.1,1133.1 450.2,1132 464.2,1131 478.3,1130.3 492.3,1129.8 506.4,1129.8 520.4,1130.2 534.5,1130.7 548.5,1131.2 562.6,1132.1 576.6,1133.4 590.7,1134.9 604.7,1136.2 618.8,1137.8 632.8,1139.2 646.9,1140.6 660.9,1141.8 675,1142.7 689,1143.2 703.1,1143.6 717.1,1143.8 731.2,1143.8 745.2,1143.6 759.3,1142.9 773.3,1141.8 787.4,1140.5 801.4,1138.9 815.4,1137.5 829.5,1136.2 843.5,1134.7 857.6,1133.4 871.6,1132 885.7,1130.6 899.7,1129.3 913.8,1128.2 927.8,1127.2 941.9,1126.5 955.9,1126.2 970,1125.7 984,1125.1 998.1,1124.5 1012.1,1123.1 1026.2,1121.4 1040.2,1119.7 1054.3,1119.2 1068.3,1120 1082.4,1121.4 1096.4,1123 1110.5,1124.4 1124.5,1125.3 1138.6,1126.5 1152.6,1127.4 1166.7,1127.7 1180.7,1127.8 1194.8,1127.4 1208.8,1126.3 1222.9,1124.3 1236.9,1121.4 1251,1117.7 1265,1114.6 1279.1,1112.6 1293.1,1110.6 1307.2,1108.1 1321.2,1104.5 1335.3,1099.1 1349.3,1090.9 1363.4,1082.7 1377.4,1075.7 1391.5,1069 1405.5,1061.9 1419.6,1055.1 1433.6,1050 1447.7,1046.4 1461.7,1043.3 1475.8,1041.6 1489.8,1039.9 1503.9,1037.7 1517.9,1035.1 1531.9,1033.5 1546,1032.1 1560,1029.8 1574.1,1026.1 1588.1,1022.4 1602.2,1019.9 1616.2,1017.8 1630.3,1017.9 1644.3,1020.4 1658.4,1025.8 1672.4,1030.6 1686.5,1035.4 1700.5,1042.1 1714.6,1048.5 1728.6,1055 1742.7,1063.1 1756.7,1070.6 1770.8,1077.4 1784.8,1081.8 1798.9,1084.2 1812.9,1084.7 1827,1082.5 1841,1079.1" fill="none" stroke="#3f8fe0" stroke-width="2" stroke-linejoin="round"/>
<polyline points="113,1142.3 127,1143.6 141.1,1145.6 155.1,1146.3 169.2,1146.2 183.2,1146.4 197.3,1145.8 211.3,1144.8 225.4,1144 239.4,1144.4 253.5,1144.3 267.5,1144.2 281.6,1143.2 295.6,1141.8 309.7,1140.4 323.7,1139.2 337.8,1137.5 351.8,1136.5 365.9,1135.1 379.9,1132.8 394,1132.2 408,1131.1 422.1,1129.1 436.1,1128.3 450.2,1127.8 464.2,1127 478.3,1127.1 492.3,1128 506.4,1129.9 520.4,1131.9 534.5,1132.5 548.5,1133.3 562.6,1135.7 576.6,1138.6 590.7,1141 604.7,1141.5 618.8,1143.8 632.8,1144.9 646.9,1146.3 660.9,1146.5 675,1146.3 689,1145.5 703.1,1144.8 717.1,1144.6 731.2,1143.9 745.2,1142.7 759.3,1140.1 773.3,1137.3 787.4,1135.3 801.4,1132.8 815.4,1132 829.5,1131 843.5,1128.7 857.6,1128.2 871.6,1126.3 885.7,1124.8 899.7,1124.1 913.8,1124.1 927.8,1123.1 941.9,1123.8 955.9,1124.9 970,1123.5 984,1122.9 998.1,1122.1 1012.1,1117.5 1026.2,1114.4 1040.2,1113.2 1054.3,1117.2 1068.3,1123.1 1082.4,1127.1 1096.4,1129.5 1110.5,1129.8 1124.5,1129 1138.6,1131.4 1152.6,1130.9 1166.7,1129 1180.7,1128.1 1194.8,1126 1208.8,1121.7 1222.9,1116.4 1236.9,1109.6 1251,1103 1265,1102.3 1279.1,1104.6 1293.1,1102.3 1307.2,1098.2 1321.2,1090.2 1335.3,1077.6 1349.3,1058 1363.4,1049.8 1377.4,1047.7 1391.5,1042.5 1405.5,1033.3 1419.6,1027.8 1433.6,1029.6 1447.7,1032.1 1461.7,1031 1475.8,1034.6 1489.8,1033.1 1503.9,1029.1 1517.9,1024.5 1531.9,1027.1 1546,1026.7 1560,1020.5 1574.1,1011.5 1588.1,1007.3 1602.2,1010 1616.2,1009.4 1630.3,1018.2 1644.3,1030.6 1658.4,1047.3 1672.4,1049.6 1686.5,1054.9 1700.5,1068.9 1714.6,1073.8 1728.6,1080.9 1742.7,1095.5 1756.7,1101 1770.8,1104.3 1784.8,1099.3 1798.9,1093.9 1812.9,1086.6 1827,1073.9 1841,1065.6" fill="none" stroke="#e8913a" stroke-width="2" stroke-linejoin="round"/>
<line x1="108" x2="1890" y1="1323.5" y2="1323.5" stroke="#dedede"/>
<line x1="108" x2="1890" y1="1392.5" y2="1392.5" stroke="#dedede"/>
<line x1="108" x2="1890" y1="1462" y2="1462" stroke="#dedede"/>
<rect x="108" y="1441" width="10" height="20.7" fill="#d8463d"/>
<rect x="122" y="1444" width="10" height="17.7" fill="#d8463d"/>
<rect x="136.1" y="1449" width="10" height="12.7" fill="#5fa657"/>
<rect x="150.1" y="1450" width="10" height="11.7" fill="#d8463d"/>
<rect x="164.2" y="1446" width="10" height="15.7" fill="#d8463d"/>
<rect x="178.2" y="1446.7" width="10" height="15" fill="#5fa657"/>
<rect x="192.3" y="1448" width="10" height="13.7" fill="#d8463d"/>
<rect x="206.3" y="1452" width="10" height="9.7" fill="#d8463d"/>
<rect x="220.4" y="1448.7" width="10" height="13" fill="#d8463d"/>
<rect x="234.4" y="1445" width="10" height="16.7" fill="#5fa657"/>
<rect x="248.5" y="1451" width="10" height="10.7" fill="#d8463d"/>
<rect x="262.5" y="1452" width="10" height="9.7" fill="#d8463d"/>
<rect x="276.6" y="1450" width="10" height="11.7" fill="#d8463d"/>
<rect x="290.6" y="1451" width="10" height="10.7" fill="#d8463d"/>
<rect x="304.7" y="1417" width="10" height="44.7" fill="#d8463d"/>
<rect x="318.7" y="1407" width="10" height="54.7" fill="#d8463d"/>
<rect x="332.8" y="1412" width="10" height="49.7" fill="#d8463d"/>
<rect x="346.8" y="1381" width="10" height="80.7" fill="#5fa657"/>
<rect x="360.9" y="1390" width="10" height="71.7" fill="#d8463d"/>
<rect x="374.9" y="1418" width="10" height="43.7" fill="#d8463d"/>
<rect x="389" y="1405" width="10" height="56.7" fill="#5fa657"/>
<rect x="403" y="1392" width="10" height="69.7" fill="#d8463d"/>
<rect x="417.1" y="1402" width="10" height="59.7" fill="#d8463d"/>
<rect x="431.1" y="1401" width="10" height="60.7" fill="#5fa657"/>
<rect x="445.2" y="1409" width="10" height="52.7" fill="#d8463d"/>
<rect x="459.2" y="1411" width="10" height="50.7" fill="#d8463d"/>
<rect x="473.3" y="1415" width="10" height="46.7" fill="#5fa657"/>
<rect x="487.3" y="1406.7" width="10" height="55" fill="#5fa657"/>
<rect x="501.4" y="1376" width="10" height="85.7" fill="#5fa657"/>
<rect x="515.4" y="1398" width="10" height="63.7" fill="#d8463d"/>
<rect x="529.5" y="1403" width="10" height="58.7" fill="#d8463d"/>
<rect x="543.5" y="1422" width="10" height="39.7" fill="#5fa657"/>
<rect x="557.6" y="1413" width="10" height="48.7" fill="#5fa657"/>
<rect x="571.6" y="1394" width="10" height="67.7" fill="#5fa657"/>
<rect x="585.7" y="1419" width="10" height="42.7" fill="#d8463d"/>
<rect x="599.7" y="1422" width="10" height="39.7" fill="#d8463d"/>
<rect x="613.8" y="1416" width="10" height="45.7" fill="#5fa657"/>
<rect x="627.8" y="1414" width="10" height="47.7" fill="#d8463d"/>
<rect x="641.9" y="1421" width="10" height="40.7" fill="#5fa657"/>
<rect x="655.9" y="1426" width="10" height="35.7" fill="#d8463d"/>
<rect x="670" y="1428" width="10" height="33.7" fill="#d8463d"/>
<rect x="684" y="1410" width="10" height="51.7" fill="#d8463d"/>
<rect x="698.1" y="1425" width="10" height="36.7" fill="#d8463d"/>
<rect x="712.1" y="1423" width="10" height="38.7" fill="#5fa657"/>
<rect x="726.2" y="1429" width="10" height="32.7" fill="#d8463d"/>
<rect x="740.2" y="1432" width="10" height="29.7" fill="#d8463d"/>
<rect x="754.3" y="1431" width="10" height="30.7" fill="#d8463d"/>
<rect x="768.3" y="1432" width="10" height="29.7" fill="#d8463d"/>
<rect x="782.4" y="1442" width="10" height="19.7" fill="#5fa657"/>
<rect x="796.4" y="1427" width="10" height="34.7" fill="#d8463d"/>
<rect x="810.4" y="1425" width="10" height="36.7" fill="#5fa657"/>
<rect x="824.5" y="1440" width="10" height="21.7" fill="#d8463d"/>
<rect x="838.5" y="1427" width="10" height="34.7" fill="#d8463d"/>
<rect x="852.6" y="1426" width="10" height="35.7" fill="#5fa657"/>
<rect x="866.6" y="1435" width="10" height="26.7" fill="#d8463d"/>
<rect x="880.7" y="1431" width="10" height="30.7" fill="#d8463d"/>
<rect x="894.7" y="1434" width="10" height="27.7" fill="#5fa657"/>
<rect x="908.8" y="1427" width="10" height="34.7" fill="#5fa657"/>
<rect x="922.8" y="1412" width="10" height="49.7" fill="#d8463d"/>
<rect x="936.9" y="1424" width="10" height="37.7" fill="#5fa657"/>
<rect x="950.9" y="1426" width="10" height="35.7" fill="#5fa657"/>
<rect x="965" y="1429" width="10" height="32.7" fill="#d8463d"/>
<rect x="979" y="1434" width="10" height="27.7" fill="#5fa657"/>
<rect x="993.1" y="1441" width="10" height="20.7" fill="#d8463d"/>
<rect x="1007.1" y="1425" width="10" height="36.7" fill="#d8463d"/>
<rect x="1021.2" y="1426" width="10" height="35.7" fill="#5fa657"/>
<rect x="1035.2" y="1420" width="10" height="41.7" fill="#5fa657"/>
<rect x="1049.3" y="1411" width="10" height="50.7" fill="#5fa657"/>
<rect x="1063.3" y="1414" width="10" height="47.7" fill="#5fa657"/>
<rect x="1077.4" y="1418" width="10" height="43.7" fill="#d8463d"/>
<rect x="1091.4" y="1437" width="10" height="24.7" fill="#d8463d"/>
<rect x="1105.5" y="1427" width="10" height="34.7" fill="#d8463d"/>
<rect x="1119.5" y="1435" width="10" height="26.7" fill="#d8463d"/>
<rect x="1133.6" y="1422" width="10" height="39.7" fill="#5fa657"/>
<rect x="1147.6" y="1434" width="10" height="27.7" fill="#d8463d"/>
<rect x="1161.7" y="1437" width="10" height="24.7" fill="#d8463d"/>
<rect x="1175.7" y="1425" width="10" height="36.7" fill="#5fa657"/>
<rect x="1189.8" y="1433" width="10" height="28.7" fill="#d8463d"/>
<rect x="1203.8" y="1429" width="10" height="32.7" fill="#d8463d"/>
<rect x="1217.9" y="1438" width="10" height="23.7" fill="#d8463d"/>
<rect x="1231.9" y="1431" width="10" height="30.7" fill="#d8463d"/>
<rect x="1246" y="1423" width="10" height="38.7" fill="#d8463d"/>
<rect x="1260" y="1422" width="10" height="39.7" fill="#5fa657"/>
<rect x="1274.1" y="1378" width="10" height="83.7" fill="#5fa657"/>
<rect x="1288.1" y="1418" width="10" height="43.7" fill="#d8463d"/>
<rect x="1302.2" y="1424" width="10" height="37.7" fill="#d8463d"/>
<rect x="1316.2" y="1419" width="10" height="42.7" fill="#d8463d"/>
<rect x="1330.3" y="1422" width="10" height="39.7" fill="#d8463d"/>
<rect x="1344.3" y="1398" width="10" height="63.7" fill="#d8463d"/>
<rect x="1358.4" y="1253.4" width="10" height="208.3" fill="#5fa657"/>
<rect x="1372.4" y="1307" width="10" height="154.7" fill="#5fa657"/>
<rect x="1386.5" y="1348" width="10" height="113.7" fill="#d8463d"/>
<rect x="1400.5" y="1338" width="10" height="123.7" fill="#d8463d"/>
<rect x="1414.6" y="1342" width="10" height="119.7" fill="#5fa657"/>
<rect x="1428.6" y="1364" width="10" height="97.7" fill="#5fa657"/>
<rect x="1442.7" y="1320" width="10" height="141.7" fill="#5fa657"/>
<rect x="1456.7" y="1361" width="10" height="100.7" fill="#d8463d"/>
<rect x="1470.8" y="1370" width="10" height="91.7" fill="#5fa657"/>
<rect x="1484.8" y="1376" width="10" height="85.7" fill="#d8463d"/>
<rect x="1498.9" y="1359" width="10" height="102.7" fill="#d8463d"/>
<rect x="1512.9" y="1384" width="10" height="77.7" fill="#d8463d"/>
<rect x="1526.9" y="1366" width="10" height="95.7" fill="#5fa657"/>
<rect x="1541" y="1378" width="10" height="83.7" fill="#d8463d"/>
<rect x="1555" y="1372" width="10" height="89.7" fill="#d8463d"/>
<rect x="1569.1" y="1331" width="10" height="130.7" fill="#d8463d"/>
<rect x="1583.1" y="1349" width="10" height="112.7" fill="#5fa657"/>
<rect x="1597.2" y="1375" width="10" height="86.7" fill="#5fa657"/>
<rect x="1611.2" y="1345" width="10" height="116.7" fill="#d8463d"/>
<rect x="1625.3" y="1372" width="10" height="89.7" fill="#5fa657"/>
<rect x="1639.3" y="1334" width="10" height="127.7" fill="#5fa657"/>
<rect x="1653.4" y="1368" width="10" height="93.7" fill="#5fa657"/>
<rect x="1667.4" y="1385" width="10" height="76.7" fill="#d8463d"/>
<rect x="1681.5" y="1381" width="10" height="80.7" fill="#5fa657"/>
<rect x="1695.5" y="1350" width="10" height="111.7" fill="#5fa657"/>
<rect x="1709.6" y="1362" width="10" height="99.7" fill="#d8463d"/>
<rect x="1723.6" y="1369" width="10" height="92.7" fill="#5fa657"/>
<rect x="1737.7" y="1372" width="10" height="89.7" fill="#5fa657"/>
<rect x="1751.7" y="1385" width="10" height="76.7" fill="#d8463d"/>
<rect x="1765.8" y="1392" width="10" height="69.7" fill="#d8463d"/>
<rect x="1779.8" y="1381" width="10" height="80.7" fill="#d8463d"/>
<rect x="1793.9" y="1410" width="10" height="51.7" fill="#d8463d"/>
<rect x="1807.9" y="1394" width="10" height="67.7" fill="#d8463d"/>
<rect x="1822" y="1393" width="10" height="68.7" fill="#d8463d"/>
<rect x="1836" y="1460" width="10" height="1.7" fill="#5fa657"/>
<polyline points="113,1439.4 127,1440.6 141.1,1442.8 155.1,1444.8 169.2,1446 183.2,1447.2 197.3,1448 211.3,1448.6 225.4,1448.3 239.4,1448.1 253.5,1449 267.5,1449.8 281.6,1449.4 295.6,1449.8 309.7,1444.2 323.7,1435.4 337.8,1427.4 351.8,1413.6 365.9,1401.4 379.9,1401.6 394,1401.2 408,1397.2 422.1,1401.4 436.1,1403.6 450.2,1401.8 464.2,1403 478.3,1407.6 492.3,1408.6 506.4,1403.6 520.4,1401.4 534.5,1399.8 548.5,1401.2 562.6,1402.4 576.6,1406 590.7,1410.2 604.7,1414 618.8,1412.8 632.8,1413 646.9,1418.4 660.9,1419.8 675,1421 689,1419.8 703.1,1422 717.1,1422.4 731.2,1423 745.2,1423.8 759.3,1428 773.3,1429.4 787.4,1433.2 801.4,1432.8 815.4,1431.4 829.5,1433.2 843.5,1432.2 857.6,1429 871.6,1430.6 885.7,1431.8 899.7,1430.6 913.8,1430.6 927.8,1427.8 941.9,1425.6 955.9,1424.6 970,1423.6 984,1425 998.1,1430.8 1012.1,1431 1026.2,1431 1040.2,1429.2 1054.3,1424.6 1068.3,1419.2 1082.4,1417.8 1096.4,1420 1110.5,1421.4 1124.5,1426.2 1138.6,1427.8 1152.6,1431 1166.7,1431 1180.7,1430.6 1194.8,1430.2 1208.8,1431.6 1222.9,1432.4 1236.9,1431.2 1251,1430.8 1265,1428.6 1279.1,1418.4 1293.1,1414.4 1307.2,1413 1321.2,1412.2 1335.3,1412.2 1349.3,1416.2 1363.4,1383.3 1377.4,1359.9 1391.5,1345.7 1405.5,1328.9 1419.6,1317.7 1433.6,1339.8 1447.7,1342.4 1461.7,1345 1475.8,1351.4 1489.8,1358.2 1503.9,1357.2 1517.9,1370 1531.9,1371 1546,1372.6 1560,1371.8 1574.1,1366.2 1588.1,1359.2 1602.2,1361 1616.2,1354.4 1630.3,1354.4 1644.3,1355 1658.4,1358.8 1672.4,1360.8 1686.5,1368 1700.5,1363.6 1714.6,1369.2 1728.6,1369.4 1742.7,1366.8 1756.7,1367.6 1770.8,1376 1784.8,1379.8 1798.9,1388 1812.9,1392.4 1827,1394 1841,1407.6" fill="none" stroke="#3f8fe0" stroke-width="2" stroke-linejoin="round"/>
</svg>

<div class="hdr" style="top:130px;height:39px"><div class="t" style="left:31px;top:5px;color:#333;font-size:23px;letter-spacing:.15px">MA</div><div class="t" style="left:81px;top:7px;color:#111;font-size:22px;letter-spacing:0">MA20:160.061</div><div class="t" style="left:237px;top:7px;color:#1f4fd8;font-size:22px;letter-spacing:0">MA60:111.149</div><div class="t" style="left:389px;top:7px;color:#e0452a;font-size:22px;letter-spacing:0">MA120:67.900</div><div class="t" style="left:1794px;top:7px;color:#222;font-size:22px;letter-spacing:0"><span style="position:relative;top:-1.500px">前复权</span></div><svg class="abs" style="left:7px;top:11px" width="18" height="12" viewBox="0 0 18 12"><polyline points="1.500,1.500 9,9.500 16.500,1.500" fill="none" stroke="#6b7080" stroke-width="2.500"/></svg><svg class="abs" style="left:1769px;top:10px" width="18" height="12" viewBox="0 0 18 12"><polyline points="1.500,1.500 9,9.500 16.500,1.500" fill="none" stroke="#6b7080" stroke-width="2.500"/></svg><svg class="abs" style="left:1879px;top:4px" width="26" height="26" viewBox="0 0 26 26"><circle cx="13" cy="13" r="12" fill="#6e7b91"/><path d="M6.200 13H19.800M13 6.200V19.800" stroke="#f4f6fa" stroke-width="3.400"/></svg><svg class="abs" style="left:1919px;top:4px" width="26" height="26" viewBox="0 0 26 26"><circle cx="13" cy="13" r="12" fill="#6e7b91"/><path d="M6.200 13H19.800" stroke="#f4f6fa" stroke-width="3.600"/></svg><svg class="abs" style="left:1958px;top:3px" width="28" height="28" viewBox="-14 -14 28 28"><g fill="#6e7b91"><path d="M-3.200 -8L-2.400 -12.200H2.400L3.200 -8Z" transform="rotate(0)"/><path d="M-3.200 -8L-2.400 -12.200H2.400L3.200 -8Z" transform="rotate(45)"/><path d="M-3.200 -8L-2.400 -12.200H2.400L3.200 -8Z" transform="rotate(90)"/><path d="M-3.200 -8L-2.400 -12.200H2.400L3.200 -8Z" transform="rotate(135)"/><path d="M-3.200 -8L-2.400 -12.200H2.400L3.200 -8Z" transform="rotate(180)"/><path d="M-3.200 -8L-2.400 -12.200H2.400L3.200 -8Z" transform="rotate(225)"/><path d="M-3.200 -8L-2.400 -12.200H2.400L3.200 -8Z" transform="rotate(270)"/><path d="M-3.200 -8L-2.400 -12.200H2.400L3.200 -8Z" transform="rotate(315)"/></g><circle r="6.600" fill="none" stroke="#6e7b91" stroke-width="4.800"/></svg></div>
<div class="hdr" style="top:720px;height:39px"><div class="t" style="left:31px;top:5px;color:#222;font-size:23px;letter-spacing:.15px">KDJ(24,3,3)</div><div class="t" style="left:173px;top:7px;color:#e8913a;font-size:22px;letter-spacing:0">K:87.02</div><div class="t" style="left:261px;top:7px;color:#3f8fe0;font-size:22px;letter-spacing:0">D:74.79</div><div class="t" style="left:350px;top:7px;color:#a0399e;font-size:22px;letter-spacing:0">J:111.48</div><svg class="abs" style="left:7px;top:11px" width="18" height="12" viewBox="0 0 18 12"><polyline points="1.500,1.500 9,9.500 16.500,1.500" fill="none" stroke="#6b7080" stroke-width="2.500"/></svg><svg class="abs" style="left:1958px;top:3px" width="28" height="28" viewBox="-14 -14 28 28"><g fill="#6e7b91"><path d="M-3.200 -8L-2.400 -12.200H2.400L3.200 -8Z" transform="rotate(0)"/><path d="M-3.200 -8L-2.400 -12.200H2.400L3.200 -8Z" transform="rotate(45)"/><path d="M-3.200 -8L-2.400 -12.200H2.400L3.200 -8Z" transform="rotate(90)"/><path d="M-3.200 -8L-2.400 -12.200H2.400L3.200 -8Z" transform="rotate(135)"/><path d="M-3.200 -8L-2.400 -12.200H2.400L3.200 -8Z" transform="rotate(180)"/><path d="M-3.200 -8L-2.400 -12.200H2.400L3.200 -8Z" transform="rotate(225)"/><path d="M-3.200 -8L-2.400 -12.200H2.400L3.200 -8Z" transform="rotate(270)"/><path d="M-3.200 -8L-2.400 -12.200H2.400L3.200 -8Z" transform="rotate(315)"/></g><circle r="6.600" fill="none" stroke="#6e7b91" stroke-width="4.800"/></svg></div>
<div class="hdr" style="top:967px;height:39px"><div class="t" style="left:31px;top:5px;color:#222;font-size:23px;letter-spacing:.15px">MACD(12,26,9)</div><div class="t" style="left:205px;top:7px;color:#d0424a;font-size:22px;letter-spacing:0">MACD:4.71</div><div class="t" style="left:331px;top:7px;color:#e8913a;font-size:22px;letter-spacing:0">DIFF:14.58</div><div class="t" style="left:455px;top:7px;color:#3f8fe0;font-size:22px;letter-spacing:0">DEA:12.23</div><svg class="abs" style="left:7px;top:11px" width="18" height="12" viewBox="0 0 18 12"><polyline points="1.500,1.500 9,9.500 16.500,1.500" fill="none" stroke="#6b7080" stroke-width="2.500"/></svg><svg class="abs" style="left:1958px;top:3px" width="28" height="28" viewBox="-14 -14 28 28"><g fill="#6e7b91"><path d="M-3.200 -8L-2.400 -12.200H2.400L3.200 -8Z" transform="rotate(0)"/><path d="M-3.200 -8L-2.400 -12.200H2.400L3.200 -8Z" transform="rotate(45)"/><path d="M-3.200 -8L-2.400 -12.200H2.400L3.200 -8Z" transform="rotate(90)"/><path d="M-3.200 -8L-2.400 -12.200H2.400L3.200 -8Z" transform="rotate(135)"/><path d="M-3.200 -8L-2.400 -12.200H2.400L3.200 -8Z" transform="rotate(180)"/><path d="M-3.200 -8L-2.400 -12.200H2.400L3.200 -8Z" transform="rotate(225)"/><path d="M-3.200 -8L-2.400 -12.200H2.400L3.200 -8Z" transform="rotate(270)"/><path d="M-3.200 -8L-2.400 -12.200H2.400L3.200 -8Z" transform="rotate(315)"/></g><circle r="6.600" fill="none" stroke="#6e7b91" stroke-width="4.800"/></svg></div>
<div class="hdr" style="top:1215px;height:39px"><div class="t" style="left:31px;top:5px;color:#222;font-size:23px;letter-spacing:.15px">成交量</div><div class="t" style="left:114px;top:7px;color:#5ba65b;font-size:22px;letter-spacing:0">总量:3145.82万</div><div class="t" style="left:278px;top:7px;color:#3f8fe0;font-size:22px;letter-spacing:0">MA5:10.19亿</div><svg class="abs" style="left:7px;top:11px" width="18" height="12" viewBox="0 0 18 12"><polyline points="1.500,1.500 9,9.500 16.500,1.500" fill="none" stroke="#6b7080" stroke-width="2.500"/></svg><svg class="abs" style="left:1958px;top:3px" width="28" height="28" viewBox="-14 -14 28 28"><g fill="#6e7b91"><path d="M-3.200 -8L-2.400 -12.200H2.400L3.200 -8Z" transform="rotate(0)"/><path d="M-3.200 -8L-2.400 -12.200H2.400L3.200 -8Z" transform="rotate(45)"/><path d="M-3.200 -8L-2.400 -12.200H2.400L3.200 -8Z" transform="rotate(90)"/><path d="M-3.200 -8L-2.400 -12.200H2.400L3.200 -8Z" transform="rotate(135)"/><path d="M-3.200 -8L-2.400 -12.200H2.400L3.200 -8Z" transform="rotate(180)"/><path d="M-3.200 -8L-2.400 -12.200H2.400L3.200 -8Z" transform="rotate(225)"/><path d="M-3.200 -8L-2.400 -12.200H2.400L3.200 -8Z" transform="rotate(270)"/><path d="M-3.200 -8L-2.400 -12.200H2.400L3.200 -8Z" transform="rotate(315)"/></g><circle r="6.600" fill="none" stroke="#6e7b91" stroke-width="4.800"/></svg></div>
<div class="ax axl" style="top:676px;color:#111">0.000</div><div class="ax axr" style="top:676px;color:#111">0.000</div>
<div class="ax axl" style="top:626px;color:#111">20.000</div><div class="ax axr" style="top:626px;color:#111">20.000</div>
<div class="ax axl" style="top:576px;color:#111">40.000</div><div class="ax axr" style="top:576px;color:#111">40.000</div>
<div class="ax axl" style="top:526px;color:#111">60.000</div><div class="ax axr" style="top:526px;color:#111">60.000</div>
<div class="ax axl" style="top:476px;color:#111">80.000</div><div class="ax axr" style="top:476px;color:#111">80.000</div>
<div class="ax axl" style="top:426px;color:#111">100.000</div><div class="ax axr" style="top:426px;color:#111">100.000</div>
<div class="ax axl" style="top:376px;color:#111">120.000</div><div class="ax axr" style="top:376px;color:#111">120.000</div>
<div class="ax axl" style="top:326px;color:#111">140.000</div><div class="ax axr" style="top:326px;color:#111">140.000</div>
<div class="ax axl" style="top:276px;color:#111">160.000</div><div class="ax axr" style="top:276px;color:#111">160.000</div>
<div class="ax axl" style="top:226px;color:#111">180.000</div><div class="ax axr" style="top:226px;color:#111">180.000</div>
<div class="ax axl" style="top:176px;color:#111">200.000</div><div class="ax axr" style="top:176px;color:#111">200.000</div>
<div class="ax axl" style="top:759px;color:#c9383c">113.45</div><div class="ax axr" style="top:759px;color:#c9383c">113.45</div>
<div class="ax axl" style="top:816px;color:#c9383c">78.22</div><div class="ax axr" style="top:816px;color:#c9383c">78.22</div>
<div class="ax axl" style="top:886px;color:#c9383c">42.98</div><div class="ax axr" style="top:886px;color:#c9383c">42.98</div>
<div class="ax axl" style="top:943px;color:#c9383c">7.75</div><div class="ax axr" style="top:943px;color:#c9383c">7.75</div>
<div class="ax axl" style="top:1007px;color:#c9383c">24.67</div><div class="ax axr" style="top:1007px;color:#c9383c">24.67</div>
<div class="ax axl" style="top:1064px;color:#c9383c">12.70</div><div class="ax axr" style="top:1064px;color:#c9383c">12.70</div>
<div class="ax axl" style="top:1134px;color:#c9383c">0.72</div><div class="ax axr" style="top:1134px;color:#c9383c">0.72</div>
<div class="ax axl" style="top:1191px;color:#4f9a4a">-11.25</div><div class="ax axr" style="top:1191px;color:#4f9a4a">-11.25</div>
<div class="ax axl" style="top:1254px;color:#111">38.87</div><div class="ax axr" style="top:1254px;color:#111">38.87</div>
<div class="ax axl" style="top:1311px;color:#111">25.91</div><div class="ax axr" style="top:1311px;color:#111">25.91</div>
<div class="ax axl" style="top:1381px;color:#111">12.96</div><div class="ax axr" style="top:1381px;color:#111">12.96</div>
<div class="ax axl" style="top:1438px;color:#111">亿</div><div class="ax axr" style="top:1438px;color:#111">亿</div>
<div class="ax" style="left:53.0px;width:120px;text-align:center;top:1470.500px;margin-left:-1px">2013/04</div>
<div class="ax" style="left:179.4px;width:120px;text-align:center;top:1470.500px;margin-left:-1px">2014/01</div>
<div class="ax" style="left:348.0px;width:120px;text-align:center;top:1470.500px;margin-left:-1px">2015/01</div>
<div class="ax" style="left:516.6px;width:120px;text-align:center;top:1470.500px;margin-left:-1px">2016/01</div>
<div class="ax" style="left:685.2px;width:120px;text-align:center;top:1470.500px;margin-left:-1px">2017/01</div>
<div class="ax" style="left:853.8px;width:120px;text-align:center;top:1470.500px;margin-left:-1px">2018/01</div>
<div class="ax" style="left:1022.4px;width:120px;text-align:center;top:1470.500px;margin-left:-1px">2019/01</div>
<div class="ax" style="left:1191.0px;width:120px;text-align:center;top:1470.500px;margin-left:-1px">2020/01</div>
<div class="ax" style="left:1359.6px;width:120px;text-align:center;top:1470.500px;margin-left:-1px">2021/01</div>
<div class="ax" style="left:1528.1px;width:120px;text-align:center;top:1470.500px;margin-left:-1px">2022/01</div>
<div class="ax" style="left:1696.7px;width:120px;text-align:center;top:1470.500px;margin-left:-1px">2023/01</div>
<div class="ax" style="left:119px;top:658px;color:#222;font-size:24px"><span style="font-family:Noto Sans CJK SC,sans-serif;margin-right:-2px;position:relative;top:0px">←</span>6.768</div>
<div class="ax" style="left:1712px;top:190px;color:#222;font-size:24px">194.480<span style="font-family:Noto Sans CJK SC,sans-serif;margin-left:-2px;position:relative;top:-2px">→</span></div>
<svg class="abs" style="left:1807.600px;top:174.400px" width="26" height="26" viewBox="0 0 26 26"><circle cx="13" cy="13" r="12.200" fill="#667a9c"/><path d="M8.300 8.300L17.700 17.700M17.700 8.300L8.300 17.700" stroke="#fff" stroke-width="3"/></svg>
<div class="abs" style="left:1834px;top:202px;width:13px;height:4px;background:#6fa352"></div>

<div class="abs" style="left:0;top:1502px;width:1996px;height:2px;background:#ececee"></div>

<div id="side" class="abs"></div>
<div class="t" style="left:2013px;top:22px;font-size:38px;font-weight:400;color:#111">苹果</div>
<div class="t" style="left:2012px;top:73px;font-size:34.500px;color:#999">AAPL</div>
<div class="t g" style="left:2012px;top:117.500px;font-size:36px;letter-spacing:.1px;-webkit-text-stroke:.45px #5ba65b">192.460</div>
<div class="t g" style="left:2142px;top:117px;font-size:31px;font-weight:500;font-family:Noto Sans CJK SC,sans-serif;transform:scaleX(1.450);transform-origin:50% 50%">↓</div>
<div class="t g" style="left:2013px;top:164px;font-size:32px;transform:scaleY(1.120);transform-origin:0 27px;-webkit-text-stroke:.4px #5ba65b">-1.510/-0.78%</div>
<div class="abs" style="left:2012px;top:208px;width:110px;height:38px;border-radius:4px;background:#dce8fa;color:#3c8cea;font-size:26px;line-height:38px;text-align:center;letter-spacing:1px">－自选</div>
<div class="abs" style="left:1999px;top:261px;width:305px;height:1px;background:#e3e3e3"></div>
<div class="row" style="top:273px">昨收：<span class="" style="letter-spacing:.5px">193.970</span></div>
<div class="row" style="top:309px">今开：<span class="g" style="letter-spacing:.5px">193.780</span></div>
<div class="row" style="top:345px">振幅：<span class="" style="letter-spacing:.5px">1.09%</span></div>
<div class="row" style="top:381px">换手：<span class="" style="letter-spacing:.5px">0.20%</span></div>
<div class="row" style="top:417px">总量：<span class="" style="letter-spacing:.5px">3145.82<span style="margin-left:2px">万</span></span></div>
<div class="row" style="top:453px">金额：<span class="" style="letter-spacing:.5px">60.62<span style="margin-left:2px">亿</span></span></div>
<div class="row" style="top:489px">最高：<span class="g" style="letter-spacing:.5px">193.880</span></div>
<div class="row" style="top:525px">最低：<span class="g" style="letter-spacing:.5px">191.760</span></div>
<div class="row" style="top:561px">市净率：<span class="" style="letter-spacing:.5px">48.70</span></div>
<div class="row" style="top:597px">市盈<span style="font-size:12px;position:relative;top:-10px;letter-spacing:1px"> TTM</span>：<span class="" style="letter-spacing:.5px"><span style="margin-left:4px">32.09</span></span></div>
<div class="row" style="top:633px">净利润：<span class="" style="letter-spacing:.5px">541.58<span style="margin-left:2px">亿</span></span></div>
<div class="row" style="top:669px">总市值：<span class="" style="letter-spacing:.5px">3.03<span style="margin-left:2px">万亿</span></span></div>
<div class="row" style="top:705px">52<span style="margin-left:4px">周</span>最高：<span class="r" style="letter-spacing:.5px">194.480</span></div>
<div class="row" style="top:741px">52<span style="margin-left:4px">周</span>最低：<span class="g" style="letter-spacing:.5px">124.170</span></div>

<div id="dlg" class="abs"><div class="title">区间统计</div>
<div class="dot" style="left:15px;background:#ec5f57;border:1px solid #d9493f"></div>
<div class="dot" style="left:55px;background:#cfd0d3;border:1px solid #bfc0c4"></div>
<div class="dot" style="left:95px;background:#cfd0d3;border:1px solid #bfc0c4"></div>
<div class="t d26" style="left:35px;top:77px">起始时间:<span style="color:#c6c6c6;letter-spacing:1.300px;margin-left:4px">2013/&nbsp; 8/30</span></div>
<div class="t d26" style="left:35px;top:121px">终止时间:<span style="color:#c6c6c6;letter-spacing:1.300px;margin-left:4px">2023/&nbsp; 7/&nbsp; 3</span></div>
<div class="t d26" style="left:526px;top:99px">周期个数：<span style="letter-spacing:.8px;margin-left:3px">120</span></div>
<div class="abs" style="left:33px;top:203px;width:809px;height:277px;background:#f6f6f6;border:1px solid #ebebeb;border-radius:9px"></div>
<div class="abs d26" style="left:358px;top:183px;width:158px;height:42px;background:#fff;border:1px solid #d9d9d9;border-radius:10px;box-shadow:0 1px 2px rgba(0,0,0,.12);text-align:center;line-height:40px">统计信息</div>
<div class="t d26" style="left:33.5px;width:130px;text-align:right;top:241px">起始价：</div><div class="t d26 " style="left:163.5px;top:241px;letter-spacing:.6px">9.285</div>
<div class="t d26" style="left:293.5px;width:130px;text-align:right;top:241px">终止价：</div><div class="t d26 " style="left:423.5px;top:241px;letter-spacing:.6px">192.460</div>
<div class="t d26" style="left:554px;width:130px;text-align:right;top:241px">均价：</div><div class="t d26 r" style="left:684px;top:241px;letter-spacing:.6px">132.926</div>
<div class="t d26" style="left:33.5px;width:130px;text-align:right;top:283px">最高价：</div><div class="t d26 r" style="left:163.5px;top:283px;letter-spacing:.6px">194.480</div>
<div class="t d26" style="left:293.5px;width:130px;text-align:right;top:283px">最低价：</div><div class="t d26 g" style="left:423.5px;top:283px;letter-spacing:.6px">9.204</div>
<div class="t d26" style="left:554px;width:130px;text-align:right;top:283px">振幅：</div><div class="t d26 " style="left:684px;top:283px;letter-spacing:.6px">1995.43%</div>
<div class="t d26" style="left:33.5px;width:130px;text-align:right;top:325px">涨跌幅：</div><div class="t d26 r" style="left:163.5px;top:325px;letter-spacing:.1px">+1972.81%</div>
<div class="t d26" style="left:293.5px;width:130px;text-align:right;top:325px">大盘比：</div><div class="t d26 " style="left:423.5px;top:325px;letter-spacing:3px">--</div>
<div class="t d26" style="left:554px;width:130px;text-align:right;top:325px">行业比：</div><div class="t d26 " style="left:684px;top:325px;letter-spacing:3px">--</div>
<div class="t d26" style="left:33.5px;width:130px;text-align:right;top:367px">换手率：</div><div class="t d26 " style="left:163.5px;top:367px;letter-spacing:.6px">1810.48%</div>
<div class="t d26" style="left:293.5px;width:130px;text-align:right;top:367px">总量：</div><div class="t d26 " style="left:423.5px;top:367px;letter-spacing:.6px">1263.89亿</div>
<div class="t d26" style="left:554px;width:130px;text-align:right;top:367px">金额：</div><div class="t d26 " style="left:684px;top:367px;letter-spacing:.6px">16.80万亿</div>
<div class="t d26" style="left:33.5px;width:130px;text-align:right;top:409px">阳线：</div><div class="t d26 r" style="left:163.5px;top:409px;letter-spacing:.6px">73</div>
<div class="t d26" style="left:293.5px;width:130px;text-align:right;top:409px">平线：</div><div class="t d26 " style="left:423.5px;top:409px;letter-spacing:.6px">0</div>
<div class="t d26" style="left:554px;width:130px;text-align:right;top:409px">阴线：</div><div class="t d26 g" style="left:684px;top:409px;letter-spacing:.6px">47</div>
<div class="t d26" style="left:33px;top:505px;color:#3d8fe8;letter-spacing:.5px">反馈需要统计的更多数据...</div>
</div>
</body>
</html>
